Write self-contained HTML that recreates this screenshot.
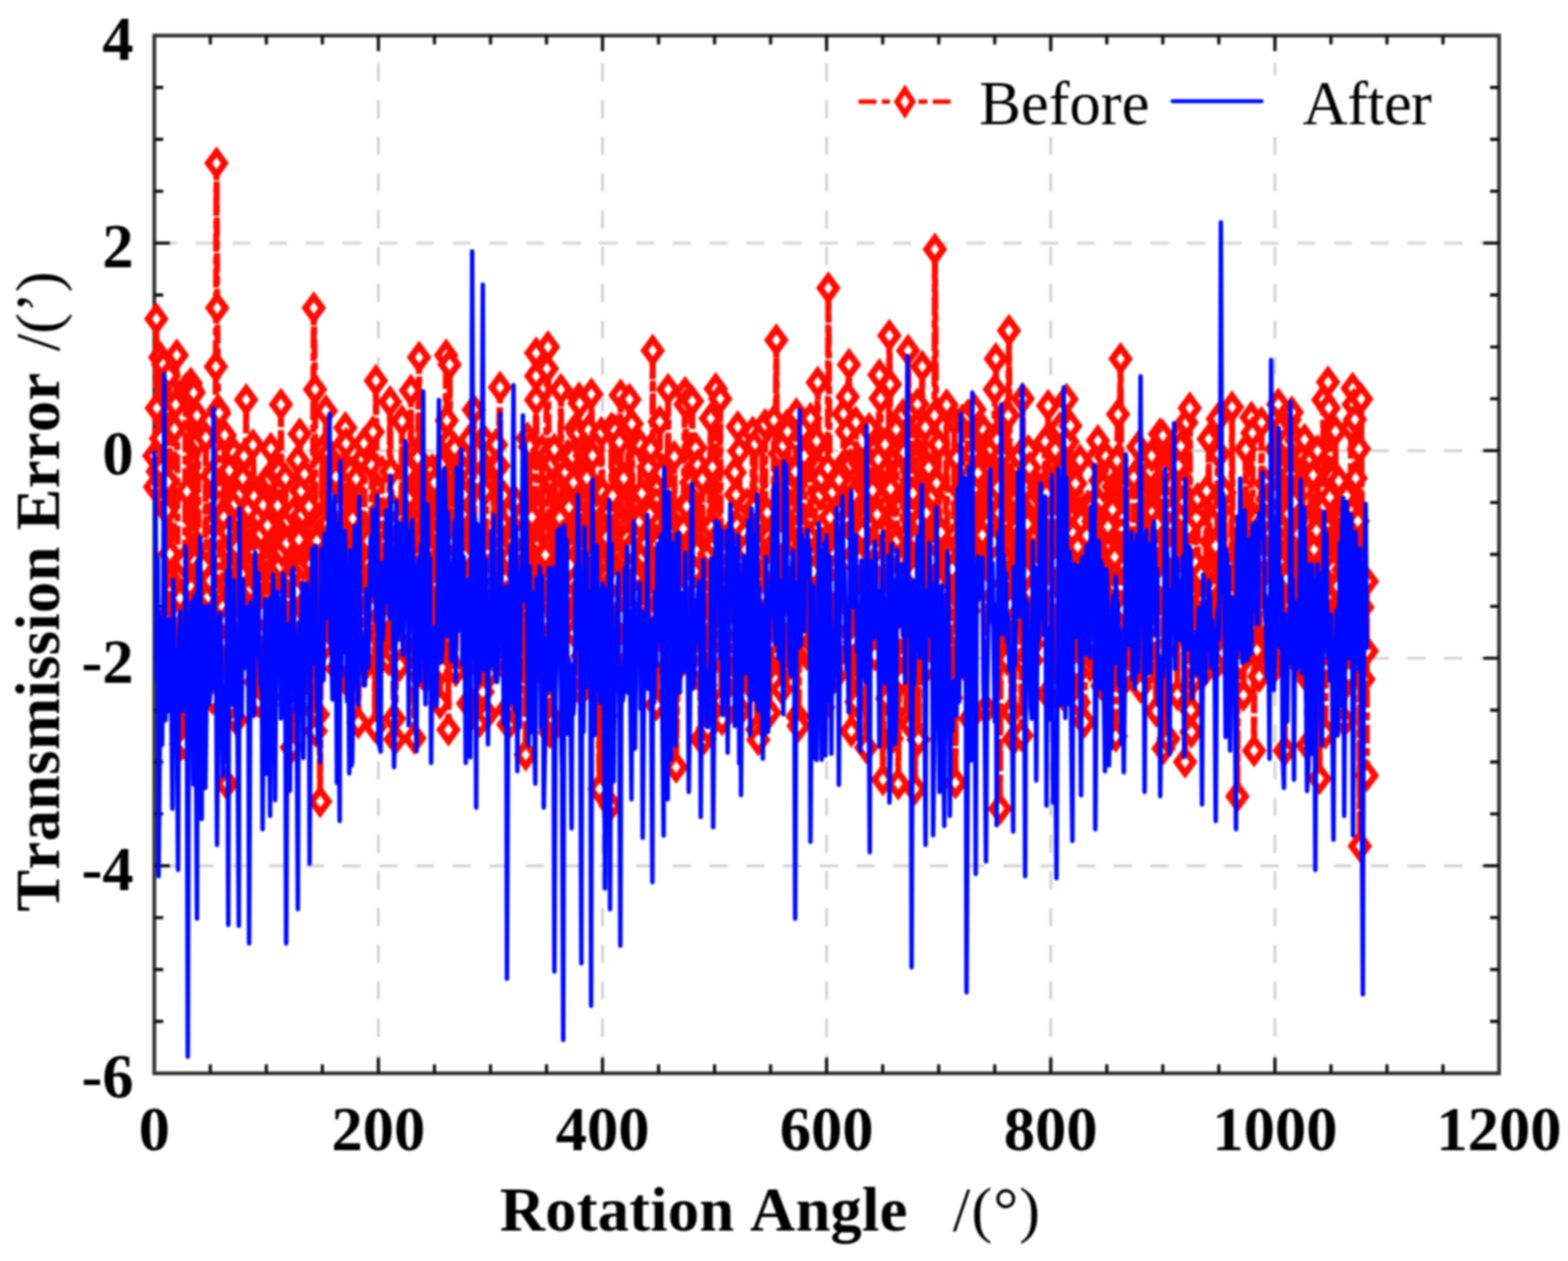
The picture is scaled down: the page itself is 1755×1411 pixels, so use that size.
<!DOCTYPE html>
<html><head><meta charset="utf-8"><title>Transmission Error vs Rotation Angle</title>
<style>html,body{margin:0;padding:0;background:#fff;overflow:hidden}svg{display:block;filter:blur(0.8px)}text{font-kerning:none}</style></head>
<body><svg width="1755" height="1411" viewBox="0 0 1755 1411">
<rect width="1755" height="1411" fill="#fff"/>
<defs><path id="dm" d="M0 -12.7L9.3 0L0 12.7L-9.3 0Z" fill="#fff" stroke="#ff0a00" stroke-width="7.3"/></defs>
<g stroke="#d2d2d2" stroke-width="3.2" stroke-dasharray="20.5 20.6" fill="none"><line x1="1677.8" y1="272.0" x2="172.7" y2="272.0"/><line x1="1677.8" y1="504.3" x2="172.7" y2="504.3"/><line x1="1677.8" y1="736.5" x2="172.7" y2="736.5"/><line x1="1677.8" y1="968.8" x2="172.7" y2="968.8"/><line x1="423.5" y1="1201.0" x2="423.5" y2="39.8"/><line x1="674.4" y1="1201.0" x2="674.4" y2="39.8"/><line x1="925.2" y1="1201.0" x2="925.2" y2="39.8"/><line x1="1176.1" y1="1201.0" x2="1176.1" y2="39.8"/><line x1="1427.0" y1="1201.0" x2="1427.0" y2="39.8"/></g>
<rect x="172.7" y="39.8" width="1505.1" height="1161.2" fill="none" stroke="#333" stroke-width="4.2"/>
<path d="M235.4 1201.0V1191.0M235.4 39.8V49.8M298.1 1201.0V1191.0M298.1 39.8V49.8M360.8 1201.0V1191.0M360.8 39.8V49.8M423.5 1201.0V1183.5M423.5 39.8V57.3M486.3 1201.0V1191.0M486.3 39.8V49.8M549.0 1201.0V1191.0M549.0 39.8V49.8M611.7 1201.0V1191.0M611.7 39.8V49.8M674.4 1201.0V1183.5M674.4 39.8V57.3M737.1 1201.0V1191.0M737.1 39.8V49.8M799.8 1201.0V1191.0M799.8 39.8V49.8M862.5 1201.0V1191.0M862.5 39.8V49.8M925.2 1201.0V1183.5M925.2 39.8V57.3M988.0 1201.0V1191.0M988.0 39.8V49.8M1050.7 1201.0V1191.0M1050.7 39.8V49.8M1113.4 1201.0V1191.0M1113.4 39.8V49.8M1176.1 1201.0V1183.5M1176.1 39.8V57.3M1238.8 1201.0V1191.0M1238.8 39.8V49.8M1301.5 1201.0V1191.0M1301.5 39.8V49.8M1364.2 1201.0V1191.0M1364.2 39.8V49.8M1427.0 1201.0V1183.5M1427.0 39.8V57.3M1489.7 1201.0V1191.0M1489.7 39.8V49.8M1552.4 1201.0V1191.0M1552.4 39.8V49.8M1615.1 1201.0V1191.0M1615.1 39.8V49.8M172.7 97.9H182.7M1677.8 97.9H1667.8M172.7 155.9H182.7M1677.8 155.9H1667.8M172.7 214.0H182.7M1677.8 214.0H1667.8M172.7 272.0H190.2M1677.8 272.0H1660.3M172.7 330.1H182.7M1677.8 330.1H1667.8M172.7 388.2H182.7M1677.8 388.2H1667.8M172.7 446.2H182.7M1677.8 446.2H1667.8M172.7 504.3H190.2M1677.8 504.3H1660.3M172.7 562.3H182.7M1677.8 562.3H1667.8M172.7 620.4H182.7M1677.8 620.4H1667.8M172.7 678.5H182.7M1677.8 678.5H1667.8M172.7 736.5H190.2M1677.8 736.5H1660.3M172.7 794.6H182.7M1677.8 794.6H1667.8M172.7 852.6H182.7M1677.8 852.6H1667.8M172.7 910.7H182.7M1677.8 910.7H1667.8M172.7 968.8H190.2M1677.8 968.8H1660.3M172.7 1026.8H182.7M1677.8 1026.8H1667.8M172.7 1084.9H182.7M1677.8 1084.9H1667.8M172.7 1142.9H182.7M1677.8 1142.9H1667.8" stroke="#111" stroke-width="3.6" fill="none"/>
<path d="M172.7 510.1L173.5 544.9L175.0 356.8L175.5 456.7L176.5 527.5L179.3 399.8L180.2 490.7L181.5 523.9L182.7 407.8L184.0 559.7L185.2 692.7L186.5 571.2L187.8 539.4L189.0 420.2L190.3 619.8L191.5 706.4L192.8 723.5L194.0 773.6L195.3 480.0L196.5 452.6L197.8 397.4L199.0 650.2L200.3 639.7L201.5 669.4L202.8 833.2L204.1 641.6L205.3 629.2L206.6 832.1L207.8 435.1L209.1 550.0L210.3 744.9L212.2 443.9L213.5 428.8L214.1 657.2L215.3 435.9L216.6 439.5L217.9 628.4L219.1 685.2L220.4 465.0L221.6 493.7L222.9 701.7L224.1 697.6L225.4 663.2L226.6 721.7L227.9 632.7L229.1 738.3L230.4 489.5L231.6 679.9L232.9 667.6L234.2 748.4L235.4 649.7L236.7 533.0L237.9 781.7L239.2 719.0L241.6 410.2L242.3 182.6L243.1 344.6L244.2 458.7L245.4 462.2L246.7 688.9L248.0 719.1L249.2 679.1L250.5 578.7L251.5 486.9L253.0 694.8L253.8 877.0L255.5 595.1L256.7 526.5L258.0 561.8L259.2 666.6L260.5 734.1L261.8 506.6L263.0 563.4L264.3 805.4L265.5 612.7L266.8 740.5L268.0 693.7L269.3 551.7L270.5 642.8L271.8 535.2L273.0 510.5L274.3 679.8L275.5 447.3L276.8 658.4L278.1 569.8L279.3 688.2L280.6 658.5L281.8 707.6L283.1 497.9L284.3 555.5L285.6 763.0L286.8 703.1L288.1 651.0L289.3 785.0L290.6 708.5L291.9 597.4L293.1 687.3L294.4 565.3L295.6 759.5L296.9 539.6L298.1 747.6L299.4 587.9L300.6 779.6L301.9 536.3L303.1 501.8L304.4 735.5L305.7 649.0L306.9 526.8L308.2 734.5L309.4 640.8L310.7 565.9L311.9 527.4L313.2 633.1L314.4 452.6L315.7 616.9L316.9 724.2L318.2 747.6L319.4 535.4L320.7 607.7L322.0 582.5L323.2 690.3L324.5 788.8L325.7 703.8L326.6 836.4L328.2 573.8L329.5 692.7L330.7 636.4L332.0 662.4L333.2 514.9L334.5 603.9L335.4 485.7L337.0 549.6L338.3 575.7L339.5 632.5L340.8 530.5L342.0 680.0L343.3 702.9L344.5 782.6L345.8 566.6L347.0 728.7L348.3 630.9L349.5 713.5L351.2 344.6L352.6 435.8L353.3 818.0L354.6 605.2L355.8 799.5L357.1 707.8L358.3 896.8L359.6 583.4L360.8 504.0L362.1 691.0L363.3 721.9L364.6 459.7L365.9 678.9L367.1 585.7L368.4 507.0L369.6 545.8L370.9 557.4L372.1 709.5L373.4 672.5L374.6 609.6L375.9 533.4L377.1 748.5L378.4 588.8L379.7 567.8L380.9 502.7L382.2 623.9L383.4 678.3L384.7 737.9L386.5 478.7L387.2 496.3L388.4 763.0L389.7 707.9L390.9 759.0L392.2 527.7L393.4 644.3L394.7 580.3L396.0 645.5L397.2 640.8L398.5 535.9L399.7 715.2L401.1 808.5L402.2 665.5L403.5 736.7L404.7 635.1L406.0 513.9L407.2 496.2L408.5 592.1L409.8 743.5L411.0 595.1L412.3 605.4L413.5 629.9L414.8 678.9L416.0 520.8L417.3 483.3L418.5 639.1L419.8 813.4L420.7 425.9L422.3 616.9L423.5 652.9L424.8 711.1L426.1 612.1L427.3 527.6L428.6 734.2L429.8 692.0L431.1 610.7L432.3 605.7L433.6 621.7L434.8 738.2L436.5 449.7L437.3 527.7L438.6 567.8L439.9 729.0L441.0 803.9L442.4 827.2L443.6 713.8L444.9 608.7L446.1 723.1L447.4 744.3L448.6 659.9L449.9 471.1L451.1 679.4L452.4 645.7L453.7 593.4L454.9 609.1L456.2 526.7L457.4 560.3L458.7 555.5L459.9 436.9L461.2 660.0L462.4 506.4L463.8 825.9L464.9 733.1L466.2 545.2L467.4 512.5L469.1 399.8L470.0 640.3L471.2 604.3L472.5 754.1L473.7 545.5L475.0 611.4L476.2 575.8L477.5 721.1L478.7 615.5L480.0 543.2L481.2 756.0L482.5 719.3L483.8 525.6L485.0 750.2L486.3 540.2L487.5 654.4L488.8 717.3L490.0 654.1L491.3 595.7L492.5 786.5L493.8 519.5L495.0 748.0L496.3 662.7L497.6 604.5L499.3 397.4L500.1 470.5L501.9 816.6L502.6 494.2L503.2 407.9L505.1 686.3L506.3 625.0L507.6 606.4L508.8 501.7L510.1 750.5L511.3 551.8L512.6 550.8L513.9 588.5L515.1 683.7L516.4 524.0L517.6 575.7L518.9 553.5L520.1 622.2L521.4 665.0L522.6 650.0L523.9 787.2L525.1 492.3L526.4 660.3L527.7 696.2L528.9 723.0L530.2 458.6L531.4 639.0L532.7 677.8L533.9 741.8L535.2 676.1L536.8 807.4L537.7 667.4L538.9 601.4L540.2 774.3L541.4 491.6L542.7 549.4L544.0 523.9L545.2 799.1L546.5 684.8L547.7 753.5L549.0 686.9L550.2 700.4L551.5 705.2L552.7 524.6L554.0 706.2L555.2 497.5L556.5 738.1L557.8 521.2L559.6 433.4L560.3 613.4L561.5 585.3L562.8 701.9L564.0 555.3L565.3 649.1L566.5 667.5L567.8 793.4L569.0 810.7L570.3 624.6L571.6 689.4L572.8 756.0L574.1 605.2L575.3 744.4L576.6 561.2L577.8 734.1L579.1 720.6L580.3 735.1L581.6 643.4L582.8 597.9L584.1 578.9L585.3 668.7L586.6 688.7L588.4 844.5L589.1 674.5L590.4 490.2L591.6 683.0L592.9 499.9L594.1 757.2L595.4 578.6L596.6 659.5L597.9 696.6L600.1 420.7L600.1 395.1L600.1 447.4L602.9 709.3L604.2 658.3L605.4 710.5L606.7 503.8L607.9 751.7L609.2 692.3L610.4 621.0L612.1 412.5L613.3 388.2L614.2 508.0L615.5 819.4L616.7 812.2L618.0 518.6L619.2 805.6L620.5 503.0L621.7 584.5L623.0 689.3L624.2 638.4L625.5 702.9L626.7 579.7L627.7 435.8L629.2 600.1L630.5 517.6L631.8 684.7L633.0 528.7L634.3 666.6L635.5 509.3L636.8 567.7L638.0 632.3L639.3 511.2L640.5 510.8L641.8 540.0L643.0 708.3L644.3 479.1L645.6 752.8L646.8 484.6L648.1 445.4L648.7 451.3L650.6 773.5L651.8 734.2L653.1 499.7L654.3 509.9L655.6 750.4L656.8 535.1L658.1 749.0L658.7 481.1L660.6 730.0L661.9 441.0L663.1 509.9L664.4 621.1L665.6 637.8L666.9 564.7L668.1 549.6L669.4 727.7L671.0 882.8L671.9 660.2L673.1 484.0L674.4 551.2L675.7 709.2L676.9 740.1L678.2 801.1L679.4 600.9L680.7 756.7L681.9 573.3L683.4 901.4L684.4 479.1L685.7 554.7L686.9 668.8L688.2 481.6L689.5 649.5L690.7 718.8L692.0 758.2L693.2 494.7L694.6 442.2L695.7 690.8L697.0 726.5L698.2 535.2L699.5 745.6L700.7 666.8L702.0 602.4L703.2 481.1L704.5 446.9L705.8 613.4L707.0 474.3L708.3 579.1L709.5 651.0L710.8 646.7L712.0 583.7L713.3 667.2L714.5 603.7L715.8 583.7L717.0 498.4L718.3 552.2L719.6 622.6L720.8 718.9L722.1 607.6L723.3 607.9L724.6 691.0L725.8 523.0L727.1 575.2L728.3 502.1L729.6 747.3L730.5 392.2L732.1 724.3L733.3 687.2L734.6 788.7L735.9 609.3L737.1 734.3L738.4 471.8L739.6 630.0L740.9 529.1L742.1 716.4L743.4 653.7L744.6 691.0L745.9 661.4L747.8 435.8L748.4 594.7L749.7 774.2L750.9 680.2L752.2 689.7L753.4 733.3L754.7 510.9L755.9 637.1L756.7 858.4L758.4 747.0L759.7 653.3L760.9 674.1L762.2 571.7L763.5 657.5L764.7 591.7L766.7 439.3L767.2 452.6L768.5 566.5L769.7 739.2L771.0 649.6L772.2 615.6L773.5 540.0L774.7 448.8L776.0 625.6L777.2 639.3L778.5 501.3L779.8 617.1L781.0 520.3L782.3 544.8L783.5 748.0L784.8 827.1L786.0 536.2L787.3 695.7L788.5 826.2L789.8 766.9L791.0 595.9L792.3 815.1L793.6 619.6L795.4 468.3L796.1 590.2L797.3 522.6L798.6 717.5L799.8 609.3L801.1 435.0L802.3 683.6L803.6 685.7L804.8 598.4L806.1 446.2L807.4 784.5L808.2 805.0L809.9 685.1L811.1 744.6L812.4 651.2L813.6 617.8L814.9 653.6L816.1 701.6L817.4 598.3L818.6 785.3L819.9 641.0L821.1 665.8L822.4 528.6L823.7 553.5L824.9 587.9L825.7 477.6L827.4 504.8L828.7 795.0L829.9 745.5L831.2 738.9L832.4 707.4L833.7 596.9L834.9 615.1L836.2 563.8L837.5 698.5L838.7 717.4L840.0 699.7L841.2 767.5L842.5 483.7L843.7 568.5L845.0 496.8L846.2 714.8L847.5 816.3L848.7 827.7L850.0 692.2L851.2 667.2L852.5 715.0L853.3 485.7L855.0 715.6L856.3 475.2L857.5 750.2L858.8 573.7L860.0 601.3L861.3 797.5L862.5 635.0L863.8 726.5L865.0 724.3L866.3 470.4L867.6 606.7L868.9 380.5L870.1 615.2L871.3 732.6L872.6 507.8L873.8 601.9L875.1 771.1L876.3 498.7L877.6 693.3L878.8 750.3L880.1 476.4L881.4 482.9L882.6 745.1L883.9 627.7L885.1 541.7L886.4 528.2L887.6 739.3L888.9 731.6L890.1 527.6L891.3 463.1L892.6 801.5L893.9 812.3L895.1 588.9L896.4 648.9L897.7 711.2L898.9 480.9L900.2 510.1L901.4 617.3L902.7 731.8L903.9 725.0L905.2 600.4L906.4 620.6L907.1 468.3L908.9 650.4L910.2 639.4L911.5 721.8L912.7 499.5L914.0 493.6L915.2 427.9L916.5 523.0L917.7 553.4L919.0 535.0L920.2 680.5L921.5 791.7L922.7 672.1L924.0 734.4L925.2 689.4L926.5 523.8L927.1 322.3L929.0 579.1L930.3 747.3L931.5 550.9L932.8 656.4L934.0 620.2L935.3 756.5L936.5 635.0L937.8 733.1L939.0 537.3L940.3 713.9L941.6 717.1L942.8 693.0L944.1 463.0L945.3 518.9L946.6 608.3L947.8 483.1L948.8 443.9L950.2 407.9L951.6 519.6L952.8 818.1L954.1 710.1L955.4 553.9L956.6 718.4L957.9 472.6L958.6 785.3L960.4 513.6L961.6 626.1L962.9 518.7L964.1 667.8L965.4 596.1L966.6 724.1L967.9 517.2L969.5 836.4L970.4 698.7L971.7 686.8L972.9 479.5L974.2 540.4L975.4 517.6L976.7 548.7L977.9 504.4L979.2 732.8L980.4 500.9L981.7 575.6L982.9 514.1L984.3 419.5L985.5 445.8L986.7 629.9L988.2 872.4L989.2 693.4L990.5 497.4L991.7 668.9L993.0 781.8L995.4 375.4L996.1 430.0L996.7 547.1L998.0 826.6L999.3 675.1L1000.5 646.7L1001.8 482.1L1003.0 480.7L1004.3 603.7L1005.4 877.0L1006.8 700.5L1008.0 709.0L1009.3 759.6L1010.5 463.9L1011.8 506.3L1013.0 649.4L1014.3 804.7L1015.6 598.6L1016.4 392.2L1018.1 550.6L1019.3 810.5L1020.6 458.8L1021.8 551.9L1023.1 641.5L1024.1 882.8L1025.6 603.0L1026.8 452.3L1028.1 827.6L1029.4 584.0L1030.6 522.9L1032.2 410.2L1033.1 748.7L1034.4 716.5L1035.6 478.1L1036.9 574.0L1038.1 745.0L1039.4 523.3L1040.6 670.8L1041.9 667.5L1043.1 626.5L1044.4 554.1L1045.9 464.8L1046.4 279.0L1048.2 540.5L1049.4 708.3L1050.7 497.4L1051.9 649.4L1053.2 595.7L1054.4 708.2L1055.7 705.4L1056.9 742.7L1058.2 637.7L1059.5 453.1L1060.7 661.1L1062.0 696.8L1063.2 619.8L1064.5 780.9L1065.7 636.8L1067.0 674.7L1068.2 470.5L1069.4 875.9L1070.7 512.5L1072.0 711.5L1073.3 610.8L1074.5 547.5L1075.8 672.7L1077.0 470.1L1078.3 668.8L1079.5 677.9L1080.8 746.7L1082.0 581.7L1083.3 464.7L1084.5 683.4L1085.8 804.3L1087.0 547.6L1088.3 507.4L1089.6 664.0L1090.8 458.2L1092.1 544.3L1093.3 637.1L1094.6 529.1L1095.8 637.9L1097.1 651.4L1098.3 489.9L1099.6 598.6L1100.8 481.4L1102.1 655.3L1103.4 793.3L1104.6 497.6L1105.9 582.1L1107.1 583.6L1108.4 500.7L1109.6 503.0L1110.9 554.3L1112.1 606.8L1113.4 435.8L1114.6 401.5L1115.9 492.2L1117.2 545.6L1118.4 573.8L1119.2 904.9L1120.9 510.0L1122.2 695.3L1123.4 731.4L1124.7 465.4L1125.9 651.3L1127.2 738.0L1128.4 464.8L1129.3 369.9L1130.9 677.2L1132.2 796.0L1133.5 518.0L1134.7 827.0L1136.0 692.7L1137.2 658.3L1138.5 590.4L1139.7 523.6L1141.0 510.3L1142.2 600.3L1143.5 823.0L1144.7 446.1L1146.0 741.1L1147.3 545.7L1148.5 641.7L1149.8 586.3L1151.0 504.4L1152.3 523.4L1153.5 663.0L1154.8 738.8L1156.0 720.6L1157.3 560.1L1158.5 626.9L1159.8 704.3L1161.0 677.4L1162.3 545.6L1163.6 632.3L1164.8 555.4L1166.1 682.7L1167.3 556.7L1168.6 543.6L1169.8 494.1L1171.1 552.3L1172.3 776.5L1173.1 453.9L1174.8 578.8L1176.1 657.8L1177.4 578.7L1178.6 672.3L1179.9 774.0L1181.1 503.4L1182.4 630.1L1183.6 768.4L1184.9 538.9L1186.1 478.8L1187.4 534.7L1188.6 527.3L1189.4 777.2L1191.2 616.5L1192.4 688.8L1193.7 446.8L1194.9 494.3L1196.2 637.3L1197.4 652.2L1198.0 476.4L1199.9 756.1L1201.2 596.5L1202.4 757.2L1203.7 541.1L1204.9 747.7L1206.2 611.6L1207.5 786.0L1208.7 514.9L1210.0 583.2L1211.2 692.6L1212.5 654.4L1213.7 807.8L1215.0 704.9L1216.2 599.2L1217.5 566.2L1218.7 741.3L1220.0 745.1L1221.3 650.7L1222.5 565.5L1223.8 583.2L1225.0 631.7L1226.3 513.4L1227.5 742.8L1228.8 493.1L1230.0 653.9L1231.3 537.8L1232.5 560.2L1233.8 767.4L1235.0 544.4L1236.3 763.7L1237.6 510.8L1238.8 580.3L1240.1 589.2L1241.3 689.5L1242.6 754.9L1243.8 732.0L1245.1 570.3L1246.3 544.5L1247.6 623.2L1248.8 823.7L1250.1 515.5L1251.4 463.6L1252.6 540.9L1254.2 401.5L1255.1 546.8L1256.4 764.2L1257.6 682.3L1258.9 757.7L1260.1 753.3L1261.4 543.8L1262.6 727.3L1263.9 704.7L1265.2 730.4L1266.4 614.6L1267.7 734.8L1268.9 534.0L1270.2 732.8L1271.4 679.3L1272.7 720.5L1273.9 500.0L1275.2 757.9L1276.4 769.0L1277.7 600.9L1278.9 638.9L1280.2 597.7L1281.5 516.8L1282.7 548.6L1284.0 537.9L1285.2 751.6L1286.5 534.6L1287.7 527.2L1289.0 510.1L1290.2 572.7L1291.5 680.2L1292.7 673.9L1294.0 795.7L1295.3 586.8L1296.5 558.2L1297.8 496.9L1298.4 485.7L1300.3 650.8L1301.5 487.5L1302.3 837.5L1304.0 556.3L1305.3 524.8L1306.5 619.3L1307.8 826.8L1309.1 594.3L1310.3 618.0L1311.6 717.3L1312.8 588.4L1314.1 512.5L1315.3 518.9L1316.6 504.8L1317.8 777.0L1319.1 521.0L1320.3 487.3L1321.6 499.2L1322.8 644.5L1324.1 578.0L1325.4 561.6L1326.4 852.6L1327.9 472.7L1329.1 691.5L1330.4 590.6L1331.6 456.7L1332.9 794.6L1333.5 819.0L1335.4 760.9L1336.6 722.4L1337.9 630.1L1339.2 579.3L1340.4 557.8L1341.7 733.5L1342.9 652.5L1344.2 643.1L1345.4 734.9L1346.7 670.0L1347.9 751.7L1349.2 700.5L1350.4 549.4L1351.7 687.0L1352.9 491.3L1354.2 718.4L1355.5 606.1L1356.7 712.5L1358.0 734.3L1359.2 659.6L1360.5 610.8L1361.7 742.8L1363.0 468.7L1364.2 508.1L1365.5 570.9L1366.7 553.7L1368.0 663.9L1369.3 730.5L1370.5 551.0L1371.8 659.8L1373.0 700.9L1374.3 702.1L1375.5 663.6L1376.8 635.4L1378.0 746.4L1378.9 455.5L1380.5 752.0L1381.8 729.1L1383.7 777.2L1384.9 891.0L1385.6 713.6L1386.8 642.8L1388.1 741.7L1389.3 634.9L1390.6 612.0L1391.8 777.8L1393.1 609.6L1394.3 502.7L1395.6 730.3L1396.8 619.3L1398.1 714.0L1399.4 702.8L1400.6 467.1L1401.7 484.5L1403.6 839.9L1404.4 674.2L1405.6 581.2L1406.9 727.5L1408.1 629.8L1409.4 756.8L1410.6 620.6L1411.9 472.8L1413.2 614.3L1414.4 624.5L1415.7 583.0L1416.9 541.5L1418.2 558.5L1419.4 659.7L1420.7 710.2L1421.9 596.7L1423.2 737.4L1424.4 749.9L1425.7 721.3L1427.0 554.8L1428.2 502.4L1429.5 573.6L1430.7 452.3L1432.0 628.7L1433.2 499.1L1434.5 486.8L1435.2 476.4L1437.0 704.1L1437.9 839.9L1439.5 494.3L1440.7 647.2L1442.0 574.7L1443.3 469.8L1444.5 530.2L1445.8 461.2L1447.0 633.6L1448.3 561.9L1449.5 692.9L1450.8 492.4L1452.0 721.5L1453.3 597.5L1454.5 743.8L1455.8 712.9L1457.1 633.2L1458.3 510.9L1460.2 491.9L1460.8 684.3L1462.1 645.2L1463.3 834.1L1464.6 761.2L1465.8 678.3L1467.1 514.2L1468.3 610.3L1469.6 531.7L1470.8 614.7L1472.1 690.7L1473.4 593.6L1474.6 504.7L1475.9 705.0L1476.9 871.2L1478.4 708.1L1479.6 686.9L1481.1 447.4L1482.1 566.4L1483.4 820.0L1484.6 624.8L1486.4 427.6L1487.2 456.6L1488.4 556.3L1489.7 708.0L1490.9 533.9L1492.2 635.9L1493.4 700.1L1494.7 482.6L1495.9 692.7L1497.2 655.9L1498.4 538.1L1499.7 695.3L1501.0 682.7L1502.2 770.8L1503.5 637.6L1504.7 807.1L1506.0 592.0L1507.2 554.7L1508.5 708.6L1509.7 754.6L1511.0 712.8L1512.2 478.5L1513.9 434.6L1515.2 452.6L1516.5 469.4L1517.3 535.0L1518.5 684.7L1519.8 583.1L1521.0 502.3L1522.0 946.7L1523.5 446.4L1524.8 679.4L1526.0 760.1L1529.8 728.4L1529.8 650.6L1529.8 867.7" fill="none" stroke="#ff0a00" stroke-width="6.8" stroke-dasharray="21 5 9 5" stroke-linejoin="round"/><use href="#dm" x="172.7" y="510.1"/><use href="#dm" x="173.5" y="544.9"/><use href="#dm" x="175.0" y="356.8"/><use href="#dm" x="175.5" y="456.7"/><use href="#dm" x="176.5" y="527.5"/><use href="#dm" x="179.3" y="399.8"/><use href="#dm" x="180.2" y="490.7"/><use href="#dm" x="181.5" y="523.9"/><use href="#dm" x="182.7" y="407.8"/><use href="#dm" x="184.0" y="559.7"/><use href="#dm" x="185.2" y="692.7"/><use href="#dm" x="186.5" y="571.2"/><use href="#dm" x="187.8" y="539.4"/><use href="#dm" x="189.0" y="420.2"/><use href="#dm" x="190.3" y="619.8"/><use href="#dm" x="191.5" y="706.4"/><use href="#dm" x="192.8" y="723.5"/><use href="#dm" x="194.0" y="773.6"/><use href="#dm" x="195.3" y="480.0"/><use href="#dm" x="196.5" y="452.6"/><use href="#dm" x="197.8" y="397.4"/><use href="#dm" x="199.0" y="650.2"/><use href="#dm" x="200.3" y="639.7"/><use href="#dm" x="201.5" y="669.4"/><use href="#dm" x="202.8" y="833.2"/><use href="#dm" x="204.1" y="641.6"/><use href="#dm" x="205.3" y="629.2"/><use href="#dm" x="206.6" y="832.1"/><use href="#dm" x="207.8" y="435.1"/><use href="#dm" x="209.1" y="550.0"/><use href="#dm" x="210.3" y="744.9"/><use href="#dm" x="212.2" y="443.9"/><use href="#dm" x="213.5" y="428.8"/><use href="#dm" x="214.1" y="657.2"/><use href="#dm" x="215.3" y="435.9"/><use href="#dm" x="216.6" y="439.5"/><use href="#dm" x="217.9" y="628.4"/><use href="#dm" x="219.1" y="685.2"/><use href="#dm" x="220.4" y="465.0"/><use href="#dm" x="221.6" y="493.7"/><use href="#dm" x="222.9" y="701.7"/><use href="#dm" x="224.1" y="697.6"/><use href="#dm" x="225.4" y="663.2"/><use href="#dm" x="226.6" y="721.7"/><use href="#dm" x="227.9" y="632.7"/><use href="#dm" x="229.1" y="738.3"/><use href="#dm" x="230.4" y="489.5"/><use href="#dm" x="231.6" y="679.9"/><use href="#dm" x="232.9" y="667.6"/><use href="#dm" x="234.2" y="748.4"/><use href="#dm" x="235.4" y="649.7"/><use href="#dm" x="236.7" y="533.0"/><use href="#dm" x="237.9" y="781.7"/><use href="#dm" x="239.2" y="719.0"/><use href="#dm" x="241.6" y="410.2"/><use href="#dm" x="242.3" y="182.6"/><use href="#dm" x="243.1" y="344.6"/><use href="#dm" x="244.2" y="458.7"/><use href="#dm" x="245.4" y="462.2"/><use href="#dm" x="246.7" y="688.9"/><use href="#dm" x="248.0" y="719.1"/><use href="#dm" x="249.2" y="679.1"/><use href="#dm" x="250.5" y="578.7"/><use href="#dm" x="251.5" y="486.9"/><use href="#dm" x="253.0" y="694.8"/><use href="#dm" x="253.8" y="877.0"/><use href="#dm" x="255.5" y="595.1"/><use href="#dm" x="256.7" y="526.5"/><use href="#dm" x="258.0" y="561.8"/><use href="#dm" x="259.2" y="666.6"/><use href="#dm" x="260.5" y="734.1"/><use href="#dm" x="261.8" y="506.6"/><use href="#dm" x="263.0" y="563.4"/><use href="#dm" x="264.3" y="805.4"/><use href="#dm" x="265.5" y="612.7"/><use href="#dm" x="266.8" y="740.5"/><use href="#dm" x="268.0" y="693.7"/><use href="#dm" x="269.3" y="551.7"/><use href="#dm" x="270.5" y="642.8"/><use href="#dm" x="271.8" y="535.2"/><use href="#dm" x="273.0" y="510.5"/><use href="#dm" x="274.3" y="679.8"/><use href="#dm" x="275.5" y="447.3"/><use href="#dm" x="276.8" y="658.4"/><use href="#dm" x="278.1" y="569.8"/><use href="#dm" x="279.3" y="688.2"/><use href="#dm" x="280.6" y="658.5"/><use href="#dm" x="281.8" y="707.6"/><use href="#dm" x="283.1" y="497.9"/><use href="#dm" x="284.3" y="555.5"/><use href="#dm" x="285.6" y="763.0"/><use href="#dm" x="286.8" y="703.1"/><use href="#dm" x="288.1" y="651.0"/><use href="#dm" x="289.3" y="785.0"/><use href="#dm" x="290.6" y="708.5"/><use href="#dm" x="291.9" y="597.4"/><use href="#dm" x="293.1" y="687.3"/><use href="#dm" x="294.4" y="565.3"/><use href="#dm" x="295.6" y="759.5"/><use href="#dm" x="296.9" y="539.6"/><use href="#dm" x="298.1" y="747.6"/><use href="#dm" x="299.4" y="587.9"/><use href="#dm" x="300.6" y="779.6"/><use href="#dm" x="301.9" y="536.3"/><use href="#dm" x="303.1" y="501.8"/><use href="#dm" x="304.4" y="735.5"/><use href="#dm" x="305.7" y="649.0"/><use href="#dm" x="306.9" y="526.8"/><use href="#dm" x="308.2" y="734.5"/><use href="#dm" x="309.4" y="640.8"/><use href="#dm" x="310.7" y="565.9"/><use href="#dm" x="311.9" y="527.4"/><use href="#dm" x="313.2" y="633.1"/><use href="#dm" x="314.4" y="452.6"/><use href="#dm" x="315.7" y="616.9"/><use href="#dm" x="316.9" y="724.2"/><use href="#dm" x="318.2" y="747.6"/><use href="#dm" x="319.4" y="535.4"/><use href="#dm" x="320.7" y="607.7"/><use href="#dm" x="322.0" y="582.5"/><use href="#dm" x="323.2" y="690.3"/><use href="#dm" x="324.5" y="788.8"/><use href="#dm" x="325.7" y="703.8"/><use href="#dm" x="326.6" y="836.4"/><use href="#dm" x="328.2" y="573.8"/><use href="#dm" x="329.5" y="692.7"/><use href="#dm" x="330.7" y="636.4"/><use href="#dm" x="332.0" y="662.4"/><use href="#dm" x="333.2" y="514.9"/><use href="#dm" x="334.5" y="603.9"/><use href="#dm" x="335.4" y="485.7"/><use href="#dm" x="337.0" y="549.6"/><use href="#dm" x="338.3" y="575.7"/><use href="#dm" x="339.5" y="632.5"/><use href="#dm" x="340.8" y="530.5"/><use href="#dm" x="342.0" y="680.0"/><use href="#dm" x="343.3" y="702.9"/><use href="#dm" x="344.5" y="782.6"/><use href="#dm" x="345.8" y="566.6"/><use href="#dm" x="347.0" y="728.7"/><use href="#dm" x="348.3" y="630.9"/><use href="#dm" x="349.5" y="713.5"/><use href="#dm" x="351.2" y="344.6"/><use href="#dm" x="352.6" y="435.8"/><use href="#dm" x="353.3" y="818.0"/><use href="#dm" x="354.6" y="605.2"/><use href="#dm" x="355.8" y="799.5"/><use href="#dm" x="357.1" y="707.8"/><use href="#dm" x="358.3" y="896.8"/><use href="#dm" x="359.6" y="583.4"/><use href="#dm" x="360.8" y="504.0"/><use href="#dm" x="362.1" y="691.0"/><use href="#dm" x="363.3" y="721.9"/><use href="#dm" x="364.6" y="459.7"/><use href="#dm" x="365.9" y="678.9"/><use href="#dm" x="367.1" y="585.7"/><use href="#dm" x="368.4" y="507.0"/><use href="#dm" x="369.6" y="545.8"/><use href="#dm" x="370.9" y="557.4"/><use href="#dm" x="372.1" y="709.5"/><use href="#dm" x="373.4" y="672.5"/><use href="#dm" x="374.6" y="609.6"/><use href="#dm" x="375.9" y="533.4"/><use href="#dm" x="377.1" y="748.5"/><use href="#dm" x="378.4" y="588.8"/><use href="#dm" x="379.7" y="567.8"/><use href="#dm" x="380.9" y="502.7"/><use href="#dm" x="382.2" y="623.9"/><use href="#dm" x="383.4" y="678.3"/><use href="#dm" x="384.7" y="737.9"/><use href="#dm" x="386.5" y="478.7"/><use href="#dm" x="387.2" y="496.3"/><use href="#dm" x="388.4" y="763.0"/><use href="#dm" x="389.7" y="707.9"/><use href="#dm" x="390.9" y="759.0"/><use href="#dm" x="392.2" y="527.7"/><use href="#dm" x="393.4" y="644.3"/><use href="#dm" x="394.7" y="580.3"/><use href="#dm" x="396.0" y="645.5"/><use href="#dm" x="397.2" y="640.8"/><use href="#dm" x="398.5" y="535.9"/><use href="#dm" x="399.7" y="715.2"/><use href="#dm" x="401.1" y="808.5"/><use href="#dm" x="402.2" y="665.5"/><use href="#dm" x="403.5" y="736.7"/><use href="#dm" x="404.7" y="635.1"/><use href="#dm" x="406.0" y="513.9"/><use href="#dm" x="407.2" y="496.2"/><use href="#dm" x="408.5" y="592.1"/><use href="#dm" x="409.8" y="743.5"/><use href="#dm" x="411.0" y="595.1"/><use href="#dm" x="412.3" y="605.4"/><use href="#dm" x="413.5" y="629.9"/><use href="#dm" x="414.8" y="678.9"/><use href="#dm" x="416.0" y="520.8"/><use href="#dm" x="417.3" y="483.3"/><use href="#dm" x="418.5" y="639.1"/><use href="#dm" x="419.8" y="813.4"/><use href="#dm" x="420.7" y="425.9"/><use href="#dm" x="422.3" y="616.9"/><use href="#dm" x="423.5" y="652.9"/><use href="#dm" x="424.8" y="711.1"/><use href="#dm" x="426.1" y="612.1"/><use href="#dm" x="427.3" y="527.6"/><use href="#dm" x="428.6" y="734.2"/><use href="#dm" x="429.8" y="692.0"/><use href="#dm" x="431.1" y="610.7"/><use href="#dm" x="432.3" y="605.7"/><use href="#dm" x="433.6" y="621.7"/><use href="#dm" x="434.8" y="738.2"/><use href="#dm" x="436.5" y="449.7"/><use href="#dm" x="437.3" y="527.7"/><use href="#dm" x="438.6" y="567.8"/><use href="#dm" x="439.9" y="729.0"/><use href="#dm" x="441.0" y="803.9"/><use href="#dm" x="442.4" y="827.2"/><use href="#dm" x="443.6" y="713.8"/><use href="#dm" x="444.9" y="608.7"/><use href="#dm" x="446.1" y="723.1"/><use href="#dm" x="447.4" y="744.3"/><use href="#dm" x="448.6" y="659.9"/><use href="#dm" x="449.9" y="471.1"/><use href="#dm" x="451.1" y="679.4"/><use href="#dm" x="452.4" y="645.7"/><use href="#dm" x="453.7" y="593.4"/><use href="#dm" x="454.9" y="609.1"/><use href="#dm" x="456.2" y="526.7"/><use href="#dm" x="457.4" y="560.3"/><use href="#dm" x="458.7" y="555.5"/><use href="#dm" x="459.9" y="436.9"/><use href="#dm" x="461.2" y="660.0"/><use href="#dm" x="462.4" y="506.4"/><use href="#dm" x="463.8" y="825.9"/><use href="#dm" x="464.9" y="733.1"/><use href="#dm" x="466.2" y="545.2"/><use href="#dm" x="467.4" y="512.5"/><use href="#dm" x="469.1" y="399.8"/><use href="#dm" x="470.0" y="640.3"/><use href="#dm" x="471.2" y="604.3"/><use href="#dm" x="472.5" y="754.1"/><use href="#dm" x="473.7" y="545.5"/><use href="#dm" x="475.0" y="611.4"/><use href="#dm" x="476.2" y="575.8"/><use href="#dm" x="477.5" y="721.1"/><use href="#dm" x="478.7" y="615.5"/><use href="#dm" x="480.0" y="543.2"/><use href="#dm" x="481.2" y="756.0"/><use href="#dm" x="482.5" y="719.3"/><use href="#dm" x="483.8" y="525.6"/><use href="#dm" x="485.0" y="750.2"/><use href="#dm" x="486.3" y="540.2"/><use href="#dm" x="487.5" y="654.4"/><use href="#dm" x="488.8" y="717.3"/><use href="#dm" x="490.0" y="654.1"/><use href="#dm" x="491.3" y="595.7"/><use href="#dm" x="492.5" y="786.5"/><use href="#dm" x="493.8" y="519.5"/><use href="#dm" x="495.0" y="748.0"/><use href="#dm" x="496.3" y="662.7"/><use href="#dm" x="497.6" y="604.5"/><use href="#dm" x="499.3" y="397.4"/><use href="#dm" x="500.1" y="470.5"/><use href="#dm" x="501.9" y="816.6"/><use href="#dm" x="502.6" y="494.2"/><use href="#dm" x="503.2" y="407.9"/><use href="#dm" x="505.1" y="686.3"/><use href="#dm" x="506.3" y="625.0"/><use href="#dm" x="507.6" y="606.4"/><use href="#dm" x="508.8" y="501.7"/><use href="#dm" x="510.1" y="750.5"/><use href="#dm" x="511.3" y="551.8"/><use href="#dm" x="512.6" y="550.8"/><use href="#dm" x="513.9" y="588.5"/><use href="#dm" x="515.1" y="683.7"/><use href="#dm" x="516.4" y="524.0"/><use href="#dm" x="517.6" y="575.7"/><use href="#dm" x="518.9" y="553.5"/><use href="#dm" x="520.1" y="622.2"/><use href="#dm" x="521.4" y="665.0"/><use href="#dm" x="522.6" y="650.0"/><use href="#dm" x="523.9" y="787.2"/><use href="#dm" x="525.1" y="492.3"/><use href="#dm" x="526.4" y="660.3"/><use href="#dm" x="527.7" y="696.2"/><use href="#dm" x="528.9" y="723.0"/><use href="#dm" x="530.2" y="458.6"/><use href="#dm" x="531.4" y="639.0"/><use href="#dm" x="532.7" y="677.8"/><use href="#dm" x="533.9" y="741.8"/><use href="#dm" x="535.2" y="676.1"/><use href="#dm" x="536.8" y="807.4"/><use href="#dm" x="537.7" y="667.4"/><use href="#dm" x="538.9" y="601.4"/><use href="#dm" x="540.2" y="774.3"/><use href="#dm" x="541.4" y="491.6"/><use href="#dm" x="542.7" y="549.4"/><use href="#dm" x="544.0" y="523.9"/><use href="#dm" x="545.2" y="799.1"/><use href="#dm" x="546.5" y="684.8"/><use href="#dm" x="547.7" y="753.5"/><use href="#dm" x="549.0" y="686.9"/><use href="#dm" x="550.2" y="700.4"/><use href="#dm" x="551.5" y="705.2"/><use href="#dm" x="552.7" y="524.6"/><use href="#dm" x="554.0" y="706.2"/><use href="#dm" x="555.2" y="497.5"/><use href="#dm" x="556.5" y="738.1"/><use href="#dm" x="557.8" y="521.2"/><use href="#dm" x="559.6" y="433.4"/><use href="#dm" x="560.3" y="613.4"/><use href="#dm" x="561.5" y="585.3"/><use href="#dm" x="562.8" y="701.9"/><use href="#dm" x="564.0" y="555.3"/><use href="#dm" x="565.3" y="649.1"/><use href="#dm" x="566.5" y="667.5"/><use href="#dm" x="567.8" y="793.4"/><use href="#dm" x="569.0" y="810.7"/><use href="#dm" x="570.3" y="624.6"/><use href="#dm" x="571.6" y="689.4"/><use href="#dm" x="572.8" y="756.0"/><use href="#dm" x="574.1" y="605.2"/><use href="#dm" x="575.3" y="744.4"/><use href="#dm" x="576.6" y="561.2"/><use href="#dm" x="577.8" y="734.1"/><use href="#dm" x="579.1" y="720.6"/><use href="#dm" x="580.3" y="735.1"/><use href="#dm" x="581.6" y="643.4"/><use href="#dm" x="582.8" y="597.9"/><use href="#dm" x="584.1" y="578.9"/><use href="#dm" x="585.3" y="668.7"/><use href="#dm" x="586.6" y="688.7"/><use href="#dm" x="588.4" y="844.5"/><use href="#dm" x="589.1" y="674.5"/><use href="#dm" x="590.4" y="490.2"/><use href="#dm" x="591.6" y="683.0"/><use href="#dm" x="592.9" y="499.9"/><use href="#dm" x="594.1" y="757.2"/><use href="#dm" x="595.4" y="578.6"/><use href="#dm" x="596.6" y="659.5"/><use href="#dm" x="597.9" y="696.6"/><use href="#dm" x="600.1" y="420.7"/><use href="#dm" x="600.1" y="395.1"/><use href="#dm" x="600.1" y="447.4"/><use href="#dm" x="602.9" y="709.3"/><use href="#dm" x="604.2" y="658.3"/><use href="#dm" x="605.4" y="710.5"/><use href="#dm" x="606.7" y="503.8"/><use href="#dm" x="607.9" y="751.7"/><use href="#dm" x="609.2" y="692.3"/><use href="#dm" x="610.4" y="621.0"/><use href="#dm" x="612.1" y="412.5"/><use href="#dm" x="613.3" y="388.2"/><use href="#dm" x="614.2" y="508.0"/><use href="#dm" x="615.5" y="819.4"/><use href="#dm" x="616.7" y="812.2"/><use href="#dm" x="618.0" y="518.6"/><use href="#dm" x="619.2" y="805.6"/><use href="#dm" x="620.5" y="503.0"/><use href="#dm" x="621.7" y="584.5"/><use href="#dm" x="623.0" y="689.3"/><use href="#dm" x="624.2" y="638.4"/><use href="#dm" x="625.5" y="702.9"/><use href="#dm" x="626.7" y="579.7"/><use href="#dm" x="627.7" y="435.8"/><use href="#dm" x="629.2" y="600.1"/><use href="#dm" x="630.5" y="517.6"/><use href="#dm" x="631.8" y="684.7"/><use href="#dm" x="633.0" y="528.7"/><use href="#dm" x="634.3" y="666.6"/><use href="#dm" x="635.5" y="509.3"/><use href="#dm" x="636.8" y="567.7"/><use href="#dm" x="638.0" y="632.3"/><use href="#dm" x="639.3" y="511.2"/><use href="#dm" x="640.5" y="510.8"/><use href="#dm" x="641.8" y="540.0"/><use href="#dm" x="643.0" y="708.3"/><use href="#dm" x="644.3" y="479.1"/><use href="#dm" x="645.6" y="752.8"/><use href="#dm" x="646.8" y="484.6"/><use href="#dm" x="648.1" y="445.4"/><use href="#dm" x="648.7" y="451.3"/><use href="#dm" x="650.6" y="773.5"/><use href="#dm" x="651.8" y="734.2"/><use href="#dm" x="653.1" y="499.7"/><use href="#dm" x="654.3" y="509.9"/><use href="#dm" x="655.6" y="750.4"/><use href="#dm" x="656.8" y="535.1"/><use href="#dm" x="658.1" y="749.0"/><use href="#dm" x="658.7" y="481.1"/><use href="#dm" x="660.6" y="730.0"/><use href="#dm" x="661.9" y="441.0"/><use href="#dm" x="663.1" y="509.9"/><use href="#dm" x="664.4" y="621.1"/><use href="#dm" x="665.6" y="637.8"/><use href="#dm" x="666.9" y="564.7"/><use href="#dm" x="668.1" y="549.6"/><use href="#dm" x="669.4" y="727.7"/><use href="#dm" x="671.0" y="882.8"/><use href="#dm" x="671.9" y="660.2"/><use href="#dm" x="673.1" y="484.0"/><use href="#dm" x="674.4" y="551.2"/><use href="#dm" x="675.7" y="709.2"/><use href="#dm" x="676.9" y="740.1"/><use href="#dm" x="678.2" y="801.1"/><use href="#dm" x="679.4" y="600.9"/><use href="#dm" x="680.7" y="756.7"/><use href="#dm" x="681.9" y="573.3"/><use href="#dm" x="683.4" y="901.4"/><use href="#dm" x="684.4" y="479.1"/><use href="#dm" x="685.7" y="554.7"/><use href="#dm" x="686.9" y="668.8"/><use href="#dm" x="688.2" y="481.6"/><use href="#dm" x="689.5" y="649.5"/><use href="#dm" x="690.7" y="718.8"/><use href="#dm" x="692.0" y="758.2"/><use href="#dm" x="693.2" y="494.7"/><use href="#dm" x="694.6" y="442.2"/><use href="#dm" x="695.7" y="690.8"/><use href="#dm" x="697.0" y="726.5"/><use href="#dm" x="698.2" y="535.2"/><use href="#dm" x="699.5" y="745.6"/><use href="#dm" x="700.7" y="666.8"/><use href="#dm" x="702.0" y="602.4"/><use href="#dm" x="703.2" y="481.1"/><use href="#dm" x="704.5" y="446.9"/><use href="#dm" x="705.8" y="613.4"/><use href="#dm" x="707.0" y="474.3"/><use href="#dm" x="708.3" y="579.1"/><use href="#dm" x="709.5" y="651.0"/><use href="#dm" x="710.8" y="646.7"/><use href="#dm" x="712.0" y="583.7"/><use href="#dm" x="713.3" y="667.2"/><use href="#dm" x="714.5" y="603.7"/><use href="#dm" x="715.8" y="583.7"/><use href="#dm" x="717.0" y="498.4"/><use href="#dm" x="718.3" y="552.2"/><use href="#dm" x="719.6" y="622.6"/><use href="#dm" x="720.8" y="718.9"/><use href="#dm" x="722.1" y="607.6"/><use href="#dm" x="723.3" y="607.9"/><use href="#dm" x="724.6" y="691.0"/><use href="#dm" x="725.8" y="523.0"/><use href="#dm" x="727.1" y="575.2"/><use href="#dm" x="728.3" y="502.1"/><use href="#dm" x="729.6" y="747.3"/><use href="#dm" x="730.5" y="392.2"/><use href="#dm" x="732.1" y="724.3"/><use href="#dm" x="733.3" y="687.2"/><use href="#dm" x="734.6" y="788.7"/><use href="#dm" x="735.9" y="609.3"/><use href="#dm" x="737.1" y="734.3"/><use href="#dm" x="738.4" y="471.8"/><use href="#dm" x="739.6" y="630.0"/><use href="#dm" x="740.9" y="529.1"/><use href="#dm" x="742.1" y="716.4"/><use href="#dm" x="743.4" y="653.7"/><use href="#dm" x="744.6" y="691.0"/><use href="#dm" x="745.9" y="661.4"/><use href="#dm" x="747.8" y="435.8"/><use href="#dm" x="748.4" y="594.7"/><use href="#dm" x="749.7" y="774.2"/><use href="#dm" x="750.9" y="680.2"/><use href="#dm" x="752.2" y="689.7"/><use href="#dm" x="753.4" y="733.3"/><use href="#dm" x="754.7" y="510.9"/><use href="#dm" x="755.9" y="637.1"/><use href="#dm" x="756.7" y="858.4"/><use href="#dm" x="758.4" y="747.0"/><use href="#dm" x="759.7" y="653.3"/><use href="#dm" x="760.9" y="674.1"/><use href="#dm" x="762.2" y="571.7"/><use href="#dm" x="763.5" y="657.5"/><use href="#dm" x="764.7" y="591.7"/><use href="#dm" x="766.7" y="439.3"/><use href="#dm" x="767.2" y="452.6"/><use href="#dm" x="768.5" y="566.5"/><use href="#dm" x="769.7" y="739.2"/><use href="#dm" x="771.0" y="649.6"/><use href="#dm" x="772.2" y="615.6"/><use href="#dm" x="773.5" y="540.0"/><use href="#dm" x="774.7" y="448.8"/><use href="#dm" x="776.0" y="625.6"/><use href="#dm" x="777.2" y="639.3"/><use href="#dm" x="778.5" y="501.3"/><use href="#dm" x="779.8" y="617.1"/><use href="#dm" x="781.0" y="520.3"/><use href="#dm" x="782.3" y="544.8"/><use href="#dm" x="783.5" y="748.0"/><use href="#dm" x="784.8" y="827.1"/><use href="#dm" x="786.0" y="536.2"/><use href="#dm" x="787.3" y="695.7"/><use href="#dm" x="788.5" y="826.2"/><use href="#dm" x="789.8" y="766.9"/><use href="#dm" x="791.0" y="595.9"/><use href="#dm" x="792.3" y="815.1"/><use href="#dm" x="793.6" y="619.6"/><use href="#dm" x="795.4" y="468.3"/><use href="#dm" x="796.1" y="590.2"/><use href="#dm" x="797.3" y="522.6"/><use href="#dm" x="798.6" y="717.5"/><use href="#dm" x="799.8" y="609.3"/><use href="#dm" x="801.1" y="435.0"/><use href="#dm" x="802.3" y="683.6"/><use href="#dm" x="803.6" y="685.7"/><use href="#dm" x="804.8" y="598.4"/><use href="#dm" x="806.1" y="446.2"/><use href="#dm" x="807.4" y="784.5"/><use href="#dm" x="808.2" y="805.0"/><use href="#dm" x="809.9" y="685.1"/><use href="#dm" x="811.1" y="744.6"/><use href="#dm" x="812.4" y="651.2"/><use href="#dm" x="813.6" y="617.8"/><use href="#dm" x="814.9" y="653.6"/><use href="#dm" x="816.1" y="701.6"/><use href="#dm" x="817.4" y="598.3"/><use href="#dm" x="818.6" y="785.3"/><use href="#dm" x="819.9" y="641.0"/><use href="#dm" x="821.1" y="665.8"/><use href="#dm" x="822.4" y="528.6"/><use href="#dm" x="823.7" y="553.5"/><use href="#dm" x="824.9" y="587.9"/><use href="#dm" x="825.7" y="477.6"/><use href="#dm" x="827.4" y="504.8"/><use href="#dm" x="828.7" y="795.0"/><use href="#dm" x="829.9" y="745.5"/><use href="#dm" x="831.2" y="738.9"/><use href="#dm" x="832.4" y="707.4"/><use href="#dm" x="833.7" y="596.9"/><use href="#dm" x="834.9" y="615.1"/><use href="#dm" x="836.2" y="563.8"/><use href="#dm" x="837.5" y="698.5"/><use href="#dm" x="838.7" y="717.4"/><use href="#dm" x="840.0" y="699.7"/><use href="#dm" x="841.2" y="767.5"/><use href="#dm" x="842.5" y="483.7"/><use href="#dm" x="843.7" y="568.5"/><use href="#dm" x="845.0" y="496.8"/><use href="#dm" x="846.2" y="714.8"/><use href="#dm" x="847.5" y="816.3"/><use href="#dm" x="848.7" y="827.7"/><use href="#dm" x="850.0" y="692.2"/><use href="#dm" x="851.2" y="667.2"/><use href="#dm" x="852.5" y="715.0"/><use href="#dm" x="853.3" y="485.7"/><use href="#dm" x="855.0" y="715.6"/><use href="#dm" x="856.3" y="475.2"/><use href="#dm" x="857.5" y="750.2"/><use href="#dm" x="858.8" y="573.7"/><use href="#dm" x="860.0" y="601.3"/><use href="#dm" x="861.3" y="797.5"/><use href="#dm" x="862.5" y="635.0"/><use href="#dm" x="863.8" y="726.5"/><use href="#dm" x="865.0" y="724.3"/><use href="#dm" x="866.3" y="470.4"/><use href="#dm" x="867.6" y="606.7"/><use href="#dm" x="868.9" y="380.5"/><use href="#dm" x="870.1" y="615.2"/><use href="#dm" x="871.3" y="732.6"/><use href="#dm" x="872.6" y="507.8"/><use href="#dm" x="873.8" y="601.9"/><use href="#dm" x="875.1" y="771.1"/><use href="#dm" x="876.3" y="498.7"/><use href="#dm" x="877.6" y="693.3"/><use href="#dm" x="878.8" y="750.3"/><use href="#dm" x="880.1" y="476.4"/><use href="#dm" x="881.4" y="482.9"/><use href="#dm" x="882.6" y="745.1"/><use href="#dm" x="883.9" y="627.7"/><use href="#dm" x="885.1" y="541.7"/><use href="#dm" x="886.4" y="528.2"/><use href="#dm" x="887.6" y="739.3"/><use href="#dm" x="888.9" y="731.6"/><use href="#dm" x="890.1" y="527.6"/><use href="#dm" x="891.3" y="463.1"/><use href="#dm" x="892.6" y="801.5"/><use href="#dm" x="893.9" y="812.3"/><use href="#dm" x="895.1" y="588.9"/><use href="#dm" x="896.4" y="648.9"/><use href="#dm" x="897.7" y="711.2"/><use href="#dm" x="898.9" y="480.9"/><use href="#dm" x="900.2" y="510.1"/><use href="#dm" x="901.4" y="617.3"/><use href="#dm" x="902.7" y="731.8"/><use href="#dm" x="903.9" y="725.0"/><use href="#dm" x="905.2" y="600.4"/><use href="#dm" x="906.4" y="620.6"/><use href="#dm" x="907.1" y="468.3"/><use href="#dm" x="908.9" y="650.4"/><use href="#dm" x="910.2" y="639.4"/><use href="#dm" x="911.5" y="721.8"/><use href="#dm" x="912.7" y="499.5"/><use href="#dm" x="914.0" y="493.6"/><use href="#dm" x="915.2" y="427.9"/><use href="#dm" x="916.5" y="523.0"/><use href="#dm" x="917.7" y="553.4"/><use href="#dm" x="919.0" y="535.0"/><use href="#dm" x="920.2" y="680.5"/><use href="#dm" x="921.5" y="791.7"/><use href="#dm" x="922.7" y="672.1"/><use href="#dm" x="924.0" y="734.4"/><use href="#dm" x="925.2" y="689.4"/><use href="#dm" x="926.5" y="523.8"/><use href="#dm" x="927.1" y="322.3"/><use href="#dm" x="929.0" y="579.1"/><use href="#dm" x="930.3" y="747.3"/><use href="#dm" x="931.5" y="550.9"/><use href="#dm" x="932.8" y="656.4"/><use href="#dm" x="934.0" y="620.2"/><use href="#dm" x="935.3" y="756.5"/><use href="#dm" x="936.5" y="635.0"/><use href="#dm" x="937.8" y="733.1"/><use href="#dm" x="939.0" y="537.3"/><use href="#dm" x="940.3" y="713.9"/><use href="#dm" x="941.6" y="717.1"/><use href="#dm" x="942.8" y="693.0"/><use href="#dm" x="944.1" y="463.0"/><use href="#dm" x="945.3" y="518.9"/><use href="#dm" x="946.6" y="608.3"/><use href="#dm" x="947.8" y="483.1"/><use href="#dm" x="948.8" y="443.9"/><use href="#dm" x="950.2" y="407.9"/><use href="#dm" x="951.6" y="519.6"/><use href="#dm" x="952.8" y="818.1"/><use href="#dm" x="954.1" y="710.1"/><use href="#dm" x="955.4" y="553.9"/><use href="#dm" x="956.6" y="718.4"/><use href="#dm" x="957.9" y="472.6"/><use href="#dm" x="958.6" y="785.3"/><use href="#dm" x="960.4" y="513.6"/><use href="#dm" x="961.6" y="626.1"/><use href="#dm" x="962.9" y="518.7"/><use href="#dm" x="964.1" y="667.8"/><use href="#dm" x="965.4" y="596.1"/><use href="#dm" x="966.6" y="724.1"/><use href="#dm" x="967.9" y="517.2"/><use href="#dm" x="969.5" y="836.4"/><use href="#dm" x="970.4" y="698.7"/><use href="#dm" x="971.7" y="686.8"/><use href="#dm" x="972.9" y="479.5"/><use href="#dm" x="974.2" y="540.4"/><use href="#dm" x="975.4" y="517.6"/><use href="#dm" x="976.7" y="548.7"/><use href="#dm" x="977.9" y="504.4"/><use href="#dm" x="979.2" y="732.8"/><use href="#dm" x="980.4" y="500.9"/><use href="#dm" x="981.7" y="575.6"/><use href="#dm" x="982.9" y="514.1"/><use href="#dm" x="984.3" y="419.5"/><use href="#dm" x="985.5" y="445.8"/><use href="#dm" x="986.7" y="629.9"/><use href="#dm" x="988.2" y="872.4"/><use href="#dm" x="989.2" y="693.4"/><use href="#dm" x="990.5" y="497.4"/><use href="#dm" x="991.7" y="668.9"/><use href="#dm" x="993.0" y="781.8"/><use href="#dm" x="995.4" y="375.4"/><use href="#dm" x="996.1" y="430.0"/><use href="#dm" x="996.7" y="547.1"/><use href="#dm" x="998.0" y="826.6"/><use href="#dm" x="999.3" y="675.1"/><use href="#dm" x="1000.5" y="646.7"/><use href="#dm" x="1001.8" y="482.1"/><use href="#dm" x="1003.0" y="480.7"/><use href="#dm" x="1004.3" y="603.7"/><use href="#dm" x="1005.4" y="877.0"/><use href="#dm" x="1006.8" y="700.5"/><use href="#dm" x="1008.0" y="709.0"/><use href="#dm" x="1009.3" y="759.6"/><use href="#dm" x="1010.5" y="463.9"/><use href="#dm" x="1011.8" y="506.3"/><use href="#dm" x="1013.0" y="649.4"/><use href="#dm" x="1014.3" y="804.7"/><use href="#dm" x="1015.6" y="598.6"/><use href="#dm" x="1016.4" y="392.2"/><use href="#dm" x="1018.1" y="550.6"/><use href="#dm" x="1019.3" y="810.5"/><use href="#dm" x="1020.6" y="458.8"/><use href="#dm" x="1021.8" y="551.9"/><use href="#dm" x="1023.1" y="641.5"/><use href="#dm" x="1024.1" y="882.8"/><use href="#dm" x="1025.6" y="603.0"/><use href="#dm" x="1026.8" y="452.3"/><use href="#dm" x="1028.1" y="827.6"/><use href="#dm" x="1029.4" y="584.0"/><use href="#dm" x="1030.6" y="522.9"/><use href="#dm" x="1032.2" y="410.2"/><use href="#dm" x="1033.1" y="748.7"/><use href="#dm" x="1034.4" y="716.5"/><use href="#dm" x="1035.6" y="478.1"/><use href="#dm" x="1036.9" y="574.0"/><use href="#dm" x="1038.1" y="745.0"/><use href="#dm" x="1039.4" y="523.3"/><use href="#dm" x="1040.6" y="670.8"/><use href="#dm" x="1041.9" y="667.5"/><use href="#dm" x="1043.1" y="626.5"/><use href="#dm" x="1044.4" y="554.1"/><use href="#dm" x="1045.9" y="464.8"/><use href="#dm" x="1046.4" y="279.0"/><use href="#dm" x="1048.2" y="540.5"/><use href="#dm" x="1049.4" y="708.3"/><use href="#dm" x="1050.7" y="497.4"/><use href="#dm" x="1051.9" y="649.4"/><use href="#dm" x="1053.2" y="595.7"/><use href="#dm" x="1054.4" y="708.2"/><use href="#dm" x="1055.7" y="705.4"/><use href="#dm" x="1056.9" y="742.7"/><use href="#dm" x="1058.2" y="637.7"/><use href="#dm" x="1059.5" y="453.1"/><use href="#dm" x="1060.7" y="661.1"/><use href="#dm" x="1062.0" y="696.8"/><use href="#dm" x="1063.2" y="619.8"/><use href="#dm" x="1064.5" y="780.9"/><use href="#dm" x="1065.7" y="636.8"/><use href="#dm" x="1067.0" y="674.7"/><use href="#dm" x="1068.2" y="470.5"/><use href="#dm" x="1069.4" y="875.9"/><use href="#dm" x="1070.7" y="512.5"/><use href="#dm" x="1072.0" y="711.5"/><use href="#dm" x="1073.3" y="610.8"/><use href="#dm" x="1074.5" y="547.5"/><use href="#dm" x="1075.8" y="672.7"/><use href="#dm" x="1077.0" y="470.1"/><use href="#dm" x="1078.3" y="668.8"/><use href="#dm" x="1079.5" y="677.9"/><use href="#dm" x="1080.8" y="746.7"/><use href="#dm" x="1082.0" y="581.7"/><use href="#dm" x="1083.3" y="464.7"/><use href="#dm" x="1084.5" y="683.4"/><use href="#dm" x="1085.8" y="804.3"/><use href="#dm" x="1087.0" y="547.6"/><use href="#dm" x="1088.3" y="507.4"/><use href="#dm" x="1089.6" y="664.0"/><use href="#dm" x="1090.8" y="458.2"/><use href="#dm" x="1092.1" y="544.3"/><use href="#dm" x="1093.3" y="637.1"/><use href="#dm" x="1094.6" y="529.1"/><use href="#dm" x="1095.8" y="637.9"/><use href="#dm" x="1097.1" y="651.4"/><use href="#dm" x="1098.3" y="489.9"/><use href="#dm" x="1099.6" y="598.6"/><use href="#dm" x="1100.8" y="481.4"/><use href="#dm" x="1102.1" y="655.3"/><use href="#dm" x="1103.4" y="793.3"/><use href="#dm" x="1104.6" y="497.6"/><use href="#dm" x="1105.9" y="582.1"/><use href="#dm" x="1107.1" y="583.6"/><use href="#dm" x="1108.4" y="500.7"/><use href="#dm" x="1109.6" y="503.0"/><use href="#dm" x="1110.9" y="554.3"/><use href="#dm" x="1112.1" y="606.8"/><use href="#dm" x="1113.4" y="435.8"/><use href="#dm" x="1114.6" y="401.5"/><use href="#dm" x="1115.9" y="492.2"/><use href="#dm" x="1117.2" y="545.6"/><use href="#dm" x="1118.4" y="573.8"/><use href="#dm" x="1119.2" y="904.9"/><use href="#dm" x="1120.9" y="510.0"/><use href="#dm" x="1122.2" y="695.3"/><use href="#dm" x="1123.4" y="731.4"/><use href="#dm" x="1124.7" y="465.4"/><use href="#dm" x="1125.9" y="651.3"/><use href="#dm" x="1127.2" y="738.0"/><use href="#dm" x="1128.4" y="464.8"/><use href="#dm" x="1129.3" y="369.9"/><use href="#dm" x="1130.9" y="677.2"/><use href="#dm" x="1132.2" y="796.0"/><use href="#dm" x="1133.5" y="518.0"/><use href="#dm" x="1134.7" y="827.0"/><use href="#dm" x="1136.0" y="692.7"/><use href="#dm" x="1137.2" y="658.3"/><use href="#dm" x="1138.5" y="590.4"/><use href="#dm" x="1139.7" y="523.6"/><use href="#dm" x="1141.0" y="510.3"/><use href="#dm" x="1142.2" y="600.3"/><use href="#dm" x="1143.5" y="823.0"/><use href="#dm" x="1144.7" y="446.1"/><use href="#dm" x="1146.0" y="741.1"/><use href="#dm" x="1147.3" y="545.7"/><use href="#dm" x="1148.5" y="641.7"/><use href="#dm" x="1149.8" y="586.3"/><use href="#dm" x="1151.0" y="504.4"/><use href="#dm" x="1152.3" y="523.4"/><use href="#dm" x="1153.5" y="663.0"/><use href="#dm" x="1154.8" y="738.8"/><use href="#dm" x="1156.0" y="720.6"/><use href="#dm" x="1157.3" y="560.1"/><use href="#dm" x="1158.5" y="626.9"/><use href="#dm" x="1159.8" y="704.3"/><use href="#dm" x="1161.0" y="677.4"/><use href="#dm" x="1162.3" y="545.6"/><use href="#dm" x="1163.6" y="632.3"/><use href="#dm" x="1164.8" y="555.4"/><use href="#dm" x="1166.1" y="682.7"/><use href="#dm" x="1167.3" y="556.7"/><use href="#dm" x="1168.6" y="543.6"/><use href="#dm" x="1169.8" y="494.1"/><use href="#dm" x="1171.1" y="552.3"/><use href="#dm" x="1172.3" y="776.5"/><use href="#dm" x="1173.1" y="453.9"/><use href="#dm" x="1174.8" y="578.8"/><use href="#dm" x="1176.1" y="657.8"/><use href="#dm" x="1177.4" y="578.7"/><use href="#dm" x="1178.6" y="672.3"/><use href="#dm" x="1179.9" y="774.0"/><use href="#dm" x="1181.1" y="503.4"/><use href="#dm" x="1182.4" y="630.1"/><use href="#dm" x="1183.6" y="768.4"/><use href="#dm" x="1184.9" y="538.9"/><use href="#dm" x="1186.1" y="478.8"/><use href="#dm" x="1187.4" y="534.7"/><use href="#dm" x="1188.6" y="527.3"/><use href="#dm" x="1189.4" y="777.2"/><use href="#dm" x="1191.2" y="616.5"/><use href="#dm" x="1192.4" y="688.8"/><use href="#dm" x="1193.7" y="446.8"/><use href="#dm" x="1194.9" y="494.3"/><use href="#dm" x="1196.2" y="637.3"/><use href="#dm" x="1197.4" y="652.2"/><use href="#dm" x="1198.0" y="476.4"/><use href="#dm" x="1199.9" y="756.1"/><use href="#dm" x="1201.2" y="596.5"/><use href="#dm" x="1202.4" y="757.2"/><use href="#dm" x="1203.7" y="541.1"/><use href="#dm" x="1204.9" y="747.7"/><use href="#dm" x="1206.2" y="611.6"/><use href="#dm" x="1207.5" y="786.0"/><use href="#dm" x="1208.7" y="514.9"/><use href="#dm" x="1210.0" y="583.2"/><use href="#dm" x="1211.2" y="692.6"/><use href="#dm" x="1212.5" y="654.4"/><use href="#dm" x="1213.7" y="807.8"/><use href="#dm" x="1215.0" y="704.9"/><use href="#dm" x="1216.2" y="599.2"/><use href="#dm" x="1217.5" y="566.2"/><use href="#dm" x="1218.7" y="741.3"/><use href="#dm" x="1220.0" y="745.1"/><use href="#dm" x="1221.3" y="650.7"/><use href="#dm" x="1222.5" y="565.5"/><use href="#dm" x="1223.8" y="583.2"/><use href="#dm" x="1225.0" y="631.7"/><use href="#dm" x="1226.3" y="513.4"/><use href="#dm" x="1227.5" y="742.8"/><use href="#dm" x="1228.8" y="493.1"/><use href="#dm" x="1230.0" y="653.9"/><use href="#dm" x="1231.3" y="537.8"/><use href="#dm" x="1232.5" y="560.2"/><use href="#dm" x="1233.8" y="767.4"/><use href="#dm" x="1235.0" y="544.4"/><use href="#dm" x="1236.3" y="763.7"/><use href="#dm" x="1237.6" y="510.8"/><use href="#dm" x="1238.8" y="580.3"/><use href="#dm" x="1240.1" y="589.2"/><use href="#dm" x="1241.3" y="689.5"/><use href="#dm" x="1242.6" y="754.9"/><use href="#dm" x="1243.8" y="732.0"/><use href="#dm" x="1245.1" y="570.3"/><use href="#dm" x="1246.3" y="544.5"/><use href="#dm" x="1247.6" y="623.2"/><use href="#dm" x="1248.8" y="823.7"/><use href="#dm" x="1250.1" y="515.5"/><use href="#dm" x="1251.4" y="463.6"/><use href="#dm" x="1252.6" y="540.9"/><use href="#dm" x="1254.2" y="401.5"/><use href="#dm" x="1255.1" y="546.8"/><use href="#dm" x="1256.4" y="764.2"/><use href="#dm" x="1257.6" y="682.3"/><use href="#dm" x="1258.9" y="757.7"/><use href="#dm" x="1260.1" y="753.3"/><use href="#dm" x="1261.4" y="543.8"/><use href="#dm" x="1262.6" y="727.3"/><use href="#dm" x="1263.9" y="704.7"/><use href="#dm" x="1265.2" y="730.4"/><use href="#dm" x="1266.4" y="614.6"/><use href="#dm" x="1267.7" y="734.8"/><use href="#dm" x="1268.9" y="534.0"/><use href="#dm" x="1270.2" y="732.8"/><use href="#dm" x="1271.4" y="679.3"/><use href="#dm" x="1272.7" y="720.5"/><use href="#dm" x="1273.9" y="500.0"/><use href="#dm" x="1275.2" y="757.9"/><use href="#dm" x="1276.4" y="769.0"/><use href="#dm" x="1277.7" y="600.9"/><use href="#dm" x="1278.9" y="638.9"/><use href="#dm" x="1280.2" y="597.7"/><use href="#dm" x="1281.5" y="516.8"/><use href="#dm" x="1282.7" y="548.6"/><use href="#dm" x="1284.0" y="537.9"/><use href="#dm" x="1285.2" y="751.6"/><use href="#dm" x="1286.5" y="534.6"/><use href="#dm" x="1287.7" y="527.2"/><use href="#dm" x="1289.0" y="510.1"/><use href="#dm" x="1290.2" y="572.7"/><use href="#dm" x="1291.5" y="680.2"/><use href="#dm" x="1292.7" y="673.9"/><use href="#dm" x="1294.0" y="795.7"/><use href="#dm" x="1295.3" y="586.8"/><use href="#dm" x="1296.5" y="558.2"/><use href="#dm" x="1297.8" y="496.9"/><use href="#dm" x="1298.4" y="485.7"/><use href="#dm" x="1300.3" y="650.8"/><use href="#dm" x="1301.5" y="487.5"/><use href="#dm" x="1302.3" y="837.5"/><use href="#dm" x="1304.0" y="556.3"/><use href="#dm" x="1305.3" y="524.8"/><use href="#dm" x="1306.5" y="619.3"/><use href="#dm" x="1307.8" y="826.8"/><use href="#dm" x="1309.1" y="594.3"/><use href="#dm" x="1310.3" y="618.0"/><use href="#dm" x="1311.6" y="717.3"/><use href="#dm" x="1312.8" y="588.4"/><use href="#dm" x="1314.1" y="512.5"/><use href="#dm" x="1315.3" y="518.9"/><use href="#dm" x="1316.6" y="504.8"/><use href="#dm" x="1317.8" y="777.0"/><use href="#dm" x="1319.1" y="521.0"/><use href="#dm" x="1320.3" y="487.3"/><use href="#dm" x="1321.6" y="499.2"/><use href="#dm" x="1322.8" y="644.5"/><use href="#dm" x="1324.1" y="578.0"/><use href="#dm" x="1325.4" y="561.6"/><use href="#dm" x="1326.4" y="852.6"/><use href="#dm" x="1327.9" y="472.7"/><use href="#dm" x="1329.1" y="691.5"/><use href="#dm" x="1330.4" y="590.6"/><use href="#dm" x="1331.6" y="456.7"/><use href="#dm" x="1332.9" y="794.6"/><use href="#dm" x="1333.5" y="819.0"/><use href="#dm" x="1335.4" y="760.9"/><use href="#dm" x="1336.6" y="722.4"/><use href="#dm" x="1337.9" y="630.1"/><use href="#dm" x="1339.2" y="579.3"/><use href="#dm" x="1340.4" y="557.8"/><use href="#dm" x="1341.7" y="733.5"/><use href="#dm" x="1342.9" y="652.5"/><use href="#dm" x="1344.2" y="643.1"/><use href="#dm" x="1345.4" y="734.9"/><use href="#dm" x="1346.7" y="670.0"/><use href="#dm" x="1347.9" y="751.7"/><use href="#dm" x="1349.2" y="700.5"/><use href="#dm" x="1350.4" y="549.4"/><use href="#dm" x="1351.7" y="687.0"/><use href="#dm" x="1352.9" y="491.3"/><use href="#dm" x="1354.2" y="718.4"/><use href="#dm" x="1355.5" y="606.1"/><use href="#dm" x="1356.7" y="712.5"/><use href="#dm" x="1358.0" y="734.3"/><use href="#dm" x="1359.2" y="659.6"/><use href="#dm" x="1360.5" y="610.8"/><use href="#dm" x="1361.7" y="742.8"/><use href="#dm" x="1363.0" y="468.7"/><use href="#dm" x="1364.2" y="508.1"/><use href="#dm" x="1365.5" y="570.9"/><use href="#dm" x="1366.7" y="553.7"/><use href="#dm" x="1368.0" y="663.9"/><use href="#dm" x="1369.3" y="730.5"/><use href="#dm" x="1370.5" y="551.0"/><use href="#dm" x="1371.8" y="659.8"/><use href="#dm" x="1373.0" y="700.9"/><use href="#dm" x="1374.3" y="702.1"/><use href="#dm" x="1375.5" y="663.6"/><use href="#dm" x="1376.8" y="635.4"/><use href="#dm" x="1378.0" y="746.4"/><use href="#dm" x="1378.9" y="455.5"/><use href="#dm" x="1380.5" y="752.0"/><use href="#dm" x="1381.8" y="729.1"/><use href="#dm" x="1383.7" y="777.2"/><use href="#dm" x="1384.9" y="891.0"/><use href="#dm" x="1385.6" y="713.6"/><use href="#dm" x="1386.8" y="642.8"/><use href="#dm" x="1388.1" y="741.7"/><use href="#dm" x="1389.3" y="634.9"/><use href="#dm" x="1390.6" y="612.0"/><use href="#dm" x="1391.8" y="777.8"/><use href="#dm" x="1393.1" y="609.6"/><use href="#dm" x="1394.3" y="502.7"/><use href="#dm" x="1395.6" y="730.3"/><use href="#dm" x="1396.8" y="619.3"/><use href="#dm" x="1398.1" y="714.0"/><use href="#dm" x="1399.4" y="702.8"/><use href="#dm" x="1400.6" y="467.1"/><use href="#dm" x="1401.7" y="484.5"/><use href="#dm" x="1403.6" y="839.9"/><use href="#dm" x="1404.4" y="674.2"/><use href="#dm" x="1405.6" y="581.2"/><use href="#dm" x="1406.9" y="727.5"/><use href="#dm" x="1408.1" y="629.8"/><use href="#dm" x="1409.4" y="756.8"/><use href="#dm" x="1410.6" y="620.6"/><use href="#dm" x="1411.9" y="472.8"/><use href="#dm" x="1413.2" y="614.3"/><use href="#dm" x="1414.4" y="624.5"/><use href="#dm" x="1415.7" y="583.0"/><use href="#dm" x="1416.9" y="541.5"/><use href="#dm" x="1418.2" y="558.5"/><use href="#dm" x="1419.4" y="659.7"/><use href="#dm" x="1420.7" y="710.2"/><use href="#dm" x="1421.9" y="596.7"/><use href="#dm" x="1423.2" y="737.4"/><use href="#dm" x="1424.4" y="749.9"/><use href="#dm" x="1425.7" y="721.3"/><use href="#dm" x="1427.0" y="554.8"/><use href="#dm" x="1428.2" y="502.4"/><use href="#dm" x="1429.5" y="573.6"/><use href="#dm" x="1430.7" y="452.3"/><use href="#dm" x="1432.0" y="628.7"/><use href="#dm" x="1433.2" y="499.1"/><use href="#dm" x="1434.5" y="486.8"/><use href="#dm" x="1435.2" y="476.4"/><use href="#dm" x="1437.0" y="704.1"/><use href="#dm" x="1437.9" y="839.9"/><use href="#dm" x="1439.5" y="494.3"/><use href="#dm" x="1440.7" y="647.2"/><use href="#dm" x="1442.0" y="574.7"/><use href="#dm" x="1443.3" y="469.8"/><use href="#dm" x="1444.5" y="530.2"/><use href="#dm" x="1445.8" y="461.2"/><use href="#dm" x="1447.0" y="633.6"/><use href="#dm" x="1448.3" y="561.9"/><use href="#dm" x="1449.5" y="692.9"/><use href="#dm" x="1450.8" y="492.4"/><use href="#dm" x="1452.0" y="721.5"/><use href="#dm" x="1453.3" y="597.5"/><use href="#dm" x="1454.5" y="743.8"/><use href="#dm" x="1455.8" y="712.9"/><use href="#dm" x="1457.1" y="633.2"/><use href="#dm" x="1458.3" y="510.9"/><use href="#dm" x="1460.2" y="491.9"/><use href="#dm" x="1460.8" y="684.3"/><use href="#dm" x="1462.1" y="645.2"/><use href="#dm" x="1463.3" y="834.1"/><use href="#dm" x="1464.6" y="761.2"/><use href="#dm" x="1465.8" y="678.3"/><use href="#dm" x="1467.1" y="514.2"/><use href="#dm" x="1468.3" y="610.3"/><use href="#dm" x="1469.6" y="531.7"/><use href="#dm" x="1470.8" y="614.7"/><use href="#dm" x="1472.1" y="690.7"/><use href="#dm" x="1473.4" y="593.6"/><use href="#dm" x="1474.6" y="504.7"/><use href="#dm" x="1475.9" y="705.0"/><use href="#dm" x="1476.9" y="871.2"/><use href="#dm" x="1478.4" y="708.1"/><use href="#dm" x="1479.6" y="686.9"/><use href="#dm" x="1481.1" y="447.4"/><use href="#dm" x="1482.1" y="566.4"/><use href="#dm" x="1483.4" y="820.0"/><use href="#dm" x="1484.6" y="624.8"/><use href="#dm" x="1486.4" y="427.6"/><use href="#dm" x="1487.2" y="456.6"/><use href="#dm" x="1488.4" y="556.3"/><use href="#dm" x="1489.7" y="708.0"/><use href="#dm" x="1490.9" y="533.9"/><use href="#dm" x="1492.2" y="635.9"/><use href="#dm" x="1493.4" y="700.1"/><use href="#dm" x="1494.7" y="482.6"/><use href="#dm" x="1495.9" y="692.7"/><use href="#dm" x="1497.2" y="655.9"/><use href="#dm" x="1498.4" y="538.1"/><use href="#dm" x="1499.7" y="695.3"/><use href="#dm" x="1501.0" y="682.7"/><use href="#dm" x="1502.2" y="770.8"/><use href="#dm" x="1503.5" y="637.6"/><use href="#dm" x="1504.7" y="807.1"/><use href="#dm" x="1506.0" y="592.0"/><use href="#dm" x="1507.2" y="554.7"/><use href="#dm" x="1508.5" y="708.6"/><use href="#dm" x="1509.7" y="754.6"/><use href="#dm" x="1511.0" y="712.8"/><use href="#dm" x="1512.2" y="478.5"/><use href="#dm" x="1513.9" y="434.6"/><use href="#dm" x="1515.2" y="452.6"/><use href="#dm" x="1516.5" y="469.4"/><use href="#dm" x="1517.3" y="535.0"/><use href="#dm" x="1518.5" y="684.7"/><use href="#dm" x="1519.8" y="583.1"/><use href="#dm" x="1521.0" y="502.3"/><use href="#dm" x="1522.0" y="946.7"/><use href="#dm" x="1523.5" y="446.4"/><use href="#dm" x="1524.8" y="679.4"/><use href="#dm" x="1526.0" y="760.1"/><use href="#dm" x="1529.8" y="728.4"/><use href="#dm" x="1529.8" y="650.6"/><use href="#dm" x="1529.8" y="867.7"/><path d="M172.7 504.3L174.2 574.0L175.2 759.2L176.5 624.7L177.5 980.4L179.0 821.3L180.2 691.4L181.5 833.6L182.7 673.7L183.9 418.4L185.2 806.0L186.5 770.3L187.8 795.6L189.0 693.0L190.3 727.4L191.5 758.2L193.0 904.9L194.0 649.2L195.3 750.1L196.5 726.9L197.8 768.8L199.3 973.4L200.3 728.5L201.5 684.3L202.8 770.6L204.1 795.5L205.3 701.7L206.6 741.0L207.8 611.7L209.1 728.7L210.2 1182.4L211.6 725.6L212.8 745.9L214.1 674.1L215.3 715.3L216.6 878.0L217.9 667.0L219.1 770.8L220.5 1028.0L221.6 626.9L222.9 794.9L224.1 601.0L225.8 916.5L226.6 681.7L227.9 853.4L229.1 679.0L229.9 881.7L231.6 748.6L232.9 677.5L234.2 788.1L235.4 775.6L236.7 736.9L237.9 770.5L238.9 456.7L240.4 723.4L241.7 704.0L242.9 945.5L244.2 801.5L245.4 689.0L246.7 685.8L248.0 747.4L249.2 868.2L250.5 815.4L251.7 783.6L253.0 800.6L254.2 639.2L255.5 1034.9L256.7 579.4L258.0 784.7L259.2 753.0L260.5 788.4L261.8 649.6L263.0 730.4L264.3 817.0L265.5 765.0L267.3 1036.1L268.0 569.0L269.3 783.4L270.5 802.6L271.8 648.6L273.0 693.9L274.3 747.1L275.5 681.0L276.8 679.5L278.1 769.8L278.8 1055.8L280.6 674.0L281.8 684.5L283.1 720.7L284.3 800.9L285.6 617.9L286.8 691.0L288.1 731.3L289.3 641.4L290.6 744.5L291.9 767.2L293.1 770.7L293.9 928.1L295.6 724.4L296.9 670.5L298.1 865.7L299.4 672.7L300.6 723.6L302.3 913.0L303.1 668.5L304.4 736.7L305.7 643.1L306.9 774.6L307.9 895.6L309.4 665.8L310.7 662.0L311.9 690.6L313.2 708.9L314.4 804.1L315.7 691.0L316.9 641.8L318.2 652.1L319.4 765.5L320.3 1055.8L322.0 698.9L323.2 727.5L324.5 885.1L325.7 719.2L327.0 639.3L328.2 635.9L329.5 704.0L330.7 795.4L332.0 765.4L333.4 1017.5L334.5 711.6L335.8 695.7L337.0 701.9L338.3 652.3L339.5 848.3L340.8 744.5L342.0 701.0L343.3 653.1L344.5 711.6L345.8 699.2L346.5 966.4L348.3 692.5L349.5 613.9L350.8 625.3L352.1 742.8L353.3 610.4L354.6 765.4L355.8 832.6L357.1 813.5L358.3 853.0L359.6 614.3L360.8 648.9L362.1 761.4L363.3 597.2L364.6 599.2L365.9 691.2L367.1 621.2L369.0 463.1L369.6 719.0L370.9 722.5L372.1 782.8L373.4 696.4L374.6 554.7L375.9 680.7L377.1 876.2L378.4 586.1L380.2 918.8L380.9 516.2L382.2 756.0L383.4 596.6L384.7 728.7L385.9 594.2L387.2 638.1L388.4 784.7L389.7 692.8L390.9 865.4L392.2 615.7L393.4 856.6L394.3 852.6L396.0 707.5L397.2 588.7L398.5 748.7L399.7 726.2L401.0 788.5L402.2 555.8L403.5 711.2L404.7 713.7L406.0 735.5L407.2 766.9L408.5 766.9L409.8 659.3L411.0 674.1L412.3 747.0L413.5 681.5L414.8 600.9L416.0 665.7L417.3 570.6L418.5 600.0L419.8 638.5L421.0 695.2L422.3 554.8L423.5 831.8L424.8 835.2L426.1 841.1L427.3 629.9L428.6 714.9L429.8 671.6L431.1 674.3L432.3 571.5L433.6 654.0L434.8 570.4L436.1 691.8L437.3 532.3L438.6 662.5L439.9 662.1L441.0 858.4L442.4 800.2L443.6 560.7L444.9 716.3L446.1 656.8L447.4 630.9L448.6 586.2L449.9 697.4L451.1 733.0L452.4 633.4L453.7 493.4L454.9 636.4L456.2 598.9L457.4 811.8L458.7 594.1L459.9 595.7L461.2 582.1L462.4 622.5L463.7 756.8L464.9 796.7L466.2 840.8L467.4 635.4L468.7 624.5L470.0 762.5L471.2 610.5L472.5 653.9L473.7 438.1L475.0 711.8L476.2 788.2L477.5 721.7L478.7 564.4L480.0 685.8L481.2 624.4L482.5 853.8L483.8 748.6L485.0 712.6L486.3 702.5L487.5 762.3L488.8 789.9L490.0 623.7L491.3 447.4L492.5 670.4L493.8 741.3L495.0 725.0L496.3 574.5L497.6 524.3L498.8 568.3L500.1 711.4L501.3 573.2L502.6 647.7L503.8 659.6L505.1 739.8L506.3 663.0L507.6 623.4L508.8 583.8L510.1 762.4L511.3 523.2L512.6 706.0L513.9 697.6L515.1 596.3L516.4 502.8L517.6 743.8L518.9 622.7L520.1 709.4L521.3 853.8L522.6 648.5L523.9 681.6L525.1 759.7L526.4 847.5L527.7 579.3L528.5 281.3L530.2 732.7L531.4 576.5L533.0 903.7L533.9 586.2L535.2 661.1L536.4 763.8L537.7 682.2L538.9 643.1L540.4 318.5L541.4 749.8L542.7 706.1L544.0 625.7L545.2 724.1L546.2 832.9L547.7 697.6L549.0 745.7L550.2 594.0L551.5 734.7L552.7 576.5L554.0 752.1L555.2 762.6L556.5 763.0L557.8 729.3L559.0 601.3L560.1 463.1L561.5 676.4L562.8 714.9L564.0 810.3L565.3 759.3L566.5 656.8L567.4 1095.3L569.0 735.7L570.3 695.5L571.6 611.1L572.8 785.8L574.1 519.1L574.8 431.1L576.6 794.4L577.8 589.1L579.0 863.1L580.3 741.7L581.6 814.1L582.8 641.7L584.1 631.9L585.3 464.8L586.6 671.8L587.9 498.5L589.1 580.6L590.4 733.2L591.6 833.8L592.9 633.6L594.1 819.6L595.4 662.7L596.6 756.9L597.9 814.3L599.1 877.0L600.4 646.7L601.7 692.9L602.9 754.3L604.2 634.3L605.4 814.9L606.7 644.7L607.9 754.6L608.6 903.7L610.4 813.7L611.7 714.8L612.9 772.7L614.2 635.4L615.5 772.2L616.7 746.0L618.0 767.1L619.2 635.2L620.5 1087.2L621.7 780.1L623.0 724.0L624.2 594.1L625.5 731.6L626.7 590.9L628.0 816.3L629.2 865.4L630.4 1163.8L631.8 588.0L633.0 749.4L634.3 603.7L635.5 821.1L636.8 738.0L638.0 749.4L639.8 927.0L640.5 744.9L641.8 799.2L643.0 779.4L644.3 634.0L645.6 726.3L646.8 554.1L648.1 611.9L649.3 742.9L650.7 1077.9L651.8 638.3L653.1 818.9L654.3 590.0L655.6 768.5L656.8 619.6L658.1 765.2L659.3 685.5L660.6 662.7L661.6 1125.5L663.1 536.7L664.4 682.6L665.6 822.7L666.9 719.5L668.1 610.4L669.4 770.9L670.6 715.9L671.9 786.6L673.1 660.8L674.4 653.3L675.7 754.1L677.2 994.3L678.2 810.3L679.4 659.1L680.7 813.5L681.9 559.6L682.8 1017.5L684.4 608.1L685.7 809.2L686.9 874.2L688.2 729.0L689.5 735.8L690.7 679.3L692.0 641.6L693.2 801.2L694.3 1058.2L695.7 746.2L697.0 784.3L698.2 774.3L699.5 635.7L700.7 756.1L702.0 611.4L703.2 775.2L704.5 683.6L705.8 801.4L706.8 894.4L708.3 626.0L709.5 583.4L710.8 837.5L712.0 695.1L713.3 739.2L714.5 722.3L715.8 652.2L717.0 793.3L718.3 684.4L719.3 937.4L720.8 770.3L722.1 686.9L723.3 768.8L724.6 575.9L725.8 771.1L727.1 766.5L728.3 694.6L730.2 987.3L730.8 693.0L732.1 786.5L733.3 662.0L734.6 745.6L735.9 608.4L737.1 686.6L738.4 716.4L739.6 598.4L740.9 759.3L742.8 935.1L743.4 523.2L744.6 632.1L745.9 619.1L747.4 894.4L748.4 550.1L749.7 612.4L750.9 850.0L752.2 691.6L753.4 734.6L754.7 607.5L755.9 834.3L757.2 598.6L758.4 762.3L759.7 596.0L760.9 774.9L762.2 709.2L763.5 663.5L764.7 751.7L766.0 739.0L767.2 618.4L768.5 745.0L769.7 703.1L770.9 886.3L772.2 801.8L773.5 607.1L774.7 541.5L776.0 770.4L777.2 754.9L778.5 672.2L779.8 718.2L781.0 665.3L782.3 650.5L783.5 692.1L784.3 914.2L786.0 729.9L787.3 626.4L788.5 739.8L789.8 753.1L791.0 813.0L792.3 813.6L793.6 764.5L794.8 756.3L796.1 624.8L797.3 760.8L798.2 925.8L799.8 744.6L801.1 582.7L802.3 616.4L803.6 584.9L804.8 589.3L806.1 737.3L807.4 593.7L808.6 800.1L809.9 737.4L811.1 715.3L812.4 739.5L813.6 594.3L814.4 842.2L816.1 705.7L817.4 563.9L818.6 590.2L819.9 597.6L821.1 617.8L822.4 812.4L823.7 696.1L824.9 659.5L826.2 599.1L827.4 854.6L828.7 689.6L829.4 889.8L831.2 656.2L832.4 622.0L833.7 729.9L834.9 753.4L836.2 715.9L837.5 582.9L838.7 641.5L839.5 822.4L841.2 568.7L842.5 683.9L843.7 600.3L845.0 783.3L846.2 758.1L847.5 553.4L848.7 795.3L850.0 657.5L851.2 725.5L852.5 677.2L853.8 849.1L855.0 735.4L856.3 821.3L857.5 623.2L858.8 715.2L859.7 819.0L861.3 700.1L862.5 683.7L863.8 632.8L865.0 603.2L866.3 543.3L867.6 720.3L868.8 523.8L870.1 542.6L871.3 737.1L872.6 656.1L873.8 650.4L875.1 731.5L876.8 799.2L877.6 516.8L878.8 638.4L880.1 520.7L881.4 681.6L882.6 683.9L883.9 743.9L885.1 755.5L886.4 632.6L887.6 616.1L888.9 716.4L890.0 1028.0L891.4 671.9L892.6 651.4L893.9 725.1L895.1 459.0L896.4 721.9L897.7 598.9L898.9 706.3L900.2 706.1L901.4 605.4L902.7 642.7L903.9 592.9L905.2 617.2L906.4 614.1L907.1 942.1L908.9 710.1L910.2 655.1L911.5 848.6L912.7 759.3L914.0 850.4L915.2 739.4L916.5 585.8L917.7 653.3L919.0 635.3L919.6 850.3L921.5 621.2L922.7 608.3L924.0 845.4L925.2 599.0L926.5 784.1L927.8 768.2L929.0 622.3L930.5 843.4L931.5 714.7L932.8 774.5L934.0 729.3L935.3 690.8L936.5 568.3L937.8 639.3L938.9 878.2L940.3 676.8L941.6 656.6L942.8 555.6L944.1 629.3L945.3 641.4L946.6 727.9L947.8 750.3L949.1 736.2L949.8 796.9L951.6 593.0L952.8 549.2L954.1 625.2L955.4 678.9L956.6 619.0L957.9 599.1L959.1 728.9L960.4 678.4L961.6 826.4L962.9 840.6L964.1 627.1L965.4 704.1L966.6 697.2L967.9 752.3L969.1 763.3L969.9 476.4L971.7 678.2L973.5 953.7L974.2 686.0L975.4 628.4L976.7 649.0L977.9 714.1L979.2 606.3L980.4 626.5L981.7 691.9L982.9 660.7L984.2 835.6L985.5 739.5L986.7 725.6L988.0 595.3L989.2 763.2L990.5 722.0L991.7 765.1L993.0 758.8L994.2 622.1L995.5 898.2L996.7 845.4L998.0 608.5L999.3 701.0L1000.5 650.5L1001.8 832.4L1003.0 805.5L1004.3 614.9L1005.5 689.4L1006.8 699.8L1008.0 665.4L1009.3 631.8L1010.5 711.2L1011.8 631.9L1013.0 763.8L1014.3 601.1L1015.8 398.6L1016.8 653.6L1018.1 711.1L1019.3 668.5L1020.3 1082.6L1021.8 649.4L1023.1 765.9L1024.3 715.7L1025.6 728.1L1026.8 599.7L1028.1 669.2L1029.4 736.2L1030.6 592.0L1031.9 542.6L1033.1 641.9L1034.4 707.9L1035.9 945.5L1036.9 661.0L1038.1 681.3L1039.4 711.3L1040.6 607.5L1041.9 673.4L1043.1 655.2L1044.4 934.7L1045.7 830.3L1046.9 747.2L1048.2 567.5L1049.4 676.3L1050.7 783.0L1051.6 886.3L1053.2 721.1L1054.4 655.4L1055.7 799.7L1056.9 924.2L1058.2 697.7L1059.5 714.7L1060.7 617.0L1062.0 695.2L1063.1 913.0L1064.5 777.4L1065.7 817.7L1067.0 761.8L1068.2 782.3L1069.5 785.1L1070.7 800.8L1072.0 546.1L1073.3 785.5L1074.5 728.7L1075.3 463.1L1077.0 755.8L1078.3 637.6L1079.5 535.2L1080.8 653.6L1081.8 1110.4L1083.3 835.9L1084.5 523.6L1085.8 778.8L1087.0 850.9L1088.3 439.3L1089.6 800.3L1090.8 648.3L1092.1 978.0L1093.3 649.9L1094.6 622.9L1095.8 635.5L1097.1 669.5L1098.3 657.5L1099.6 623.9L1100.8 768.9L1102.1 797.7L1103.6 964.1L1104.6 795.4L1105.9 712.0L1107.1 626.1L1108.4 525.3L1109.6 695.4L1110.9 630.1L1112.1 728.0L1113.4 807.5L1114.6 676.4L1115.5 923.5L1117.2 606.9L1118.4 594.8L1119.7 709.7L1120.7 452.6L1122.2 676.1L1123.4 621.0L1124.7 710.0L1125.9 641.2L1127.2 718.1L1128.4 690.2L1129.7 749.8L1130.9 723.8L1132.2 754.0L1134.0 930.4L1134.7 634.4L1136.0 743.2L1137.2 681.4L1138.5 636.1L1139.7 528.1L1141.0 690.5L1142.2 562.4L1143.5 571.4L1144.2 431.6L1146.0 634.8L1147.4 980.4L1148.5 671.5L1149.8 678.3L1151.0 765.1L1152.3 709.4L1153.5 789.8L1154.8 804.2L1156.0 606.3L1157.3 729.0L1158.5 635.0L1159.8 873.5L1161.0 716.8L1162.3 714.6L1163.6 601.8L1164.8 540.9L1166.1 577.4L1167.3 681.9L1168.6 710.5L1169.8 555.6L1171.3 901.4L1172.3 703.7L1173.6 786.6L1174.8 761.9L1176.1 805.4L1177.4 531.5L1178.6 898.1L1179.9 888.9L1181.1 809.6L1182.5 982.7L1183.6 766.2L1184.9 524.3L1186.1 619.0L1187.4 788.3L1188.6 651.0L1189.9 602.0L1190.6 433.4L1192.4 803.5L1193.7 534.4L1194.9 788.1L1196.2 646.3L1197.4 617.6L1198.7 791.9L1200.3 940.9L1201.2 657.5L1202.4 631.2L1203.7 664.0L1204.9 712.5L1206.2 633.2L1207.5 633.4L1208.7 738.0L1210.0 889.9L1211.2 624.0L1212.5 670.6L1213.7 623.0L1215.0 732.1L1216.2 611.0L1217.5 653.1L1218.7 609.3L1220.0 735.4L1221.3 566.5L1222.5 672.4L1223.8 610.8L1225.0 520.2L1225.9 928.1L1227.5 734.3L1228.8 626.8L1230.0 605.3L1231.3 770.4L1232.5 628.4L1233.8 637.6L1235.0 739.1L1236.8 863.1L1237.6 743.4L1238.8 636.8L1240.1 693.2L1241.3 856.6L1242.6 736.1L1243.7 837.5L1245.1 679.8L1246.3 666.7L1247.6 741.7L1248.8 645.0L1250.1 670.6L1251.4 679.1L1252.6 767.0L1253.9 705.1L1255.1 832.6L1256.4 744.4L1257.8 864.3L1258.9 768.0L1260.1 508.4L1261.4 682.1L1262.6 722.3L1263.9 692.3L1265.2 630.7L1266.4 595.6L1267.7 760.0L1268.9 734.1L1270.2 770.1L1271.4 611.9L1272.7 598.5L1273.9 752.0L1275.2 693.7L1276.6 421.1L1277.7 664.7L1278.9 597.8L1280.2 694.3L1281.1 886.3L1282.7 593.2L1284.0 754.4L1285.2 701.6L1286.5 609.3L1287.7 752.6L1289.0 642.5L1290.2 597.2L1291.5 583.5L1292.7 605.7L1294.0 710.9L1295.3 636.2L1296.5 789.5L1297.8 739.2L1298.6 891.0L1300.3 736.1L1301.5 756.9L1302.8 727.7L1304.0 524.8L1305.3 611.1L1306.5 618.7L1307.8 799.7L1309.1 844.3L1310.3 660.3L1311.6 705.2L1312.8 684.1L1314.1 473.6L1315.3 748.6L1316.6 673.0L1317.8 625.2L1319.1 694.8L1320.3 716.0L1321.6 706.6L1322.8 683.3L1324.1 622.4L1325.4 847.0L1326.6 536.3L1327.9 724.9L1329.1 714.0L1330.4 726.3L1331.6 612.3L1332.9 622.3L1334.1 782.0L1335.4 746.8L1336.6 713.2L1337.9 752.4L1339.2 706.6L1340.4 754.4L1341.7 679.9L1342.9 692.6L1344.2 723.6L1345.4 900.2L1346.7 642.9L1347.9 726.6L1349.2 763.8L1350.4 682.1L1351.7 725.1L1352.9 649.6L1354.2 668.0L1355.5 746.4L1356.7 694.0L1358.0 748.2L1359.2 704.8L1360.7 918.8L1361.7 754.7L1363.0 682.0L1364.2 715.2L1365.5 624.8L1366.5 248.8L1368.0 661.8L1369.3 553.3L1370.5 673.9L1371.8 824.7L1373.0 615.5L1374.3 640.5L1375.5 633.3L1376.8 840.0L1378.0 675.5L1379.3 669.1L1380.5 755.8L1381.8 721.1L1383.4 928.1L1384.3 618.1L1385.6 577.8L1386.8 725.9L1388.1 535.4L1389.3 667.8L1390.6 742.2L1391.8 632.4L1393.1 571.0L1394.3 670.4L1395.6 738.9L1396.8 736.2L1398.1 603.4L1399.4 655.9L1400.6 731.2L1401.9 587.3L1403.1 683.3L1404.4 663.3L1405.6 584.4L1406.9 698.1L1408.1 698.6L1409.4 574.6L1410.6 587.7L1411.9 600.4L1413.2 528.5L1414.4 583.4L1415.7 685.2L1416.9 697.4L1418.2 757.8L1419.4 670.5L1420.9 849.2L1421.9 615.6L1422.7 402.8L1424.4 593.4L1425.7 772.3L1427.0 724.5L1428.2 723.8L1429.5 584.8L1431.2 478.7L1432.0 691.6L1433.2 724.3L1434.5 645.7L1435.7 845.1L1437.1 881.7L1438.2 687.6L1439.5 760.2L1440.7 807.3L1442.0 703.1L1443.3 741.5L1444.4 449.7L1445.8 657.7L1447.0 648.6L1448.3 872.4L1449.5 673.7L1450.8 693.2L1452.0 748.4L1453.3 683.8L1454.5 666.5L1455.8 536.7L1457.1 753.1L1458.3 691.3L1459.6 568.0L1460.8 622.0L1462.1 800.3L1462.9 885.2L1464.6 855.8L1465.8 632.1L1467.1 843.3L1468.3 631.7L1469.6 736.9L1470.8 648.8L1472.2 973.4L1473.4 691.3L1474.6 631.6L1475.9 703.8L1477.1 641.4L1478.4 799.5L1479.6 834.1L1480.9 675.9L1482.1 572.4L1483.4 723.3L1484.6 597.3L1485.9 735.5L1487.2 714.2L1488.4 761.5L1489.7 687.7L1490.9 754.9L1492.5 939.7L1493.4 720.7L1494.7 760.9L1495.9 682.9L1497.2 823.0L1498.4 755.2L1499.7 607.4L1501.0 789.6L1502.2 586.6L1503.5 557.0L1504.5 913.0L1506.0 626.0L1507.2 561.4L1508.5 699.6L1509.7 736.3L1511.0 677.4L1512.2 575.9L1513.5 697.3L1514.4 935.1L1516.0 687.0L1517.3 595.4L1518.5 708.4L1519.8 668.8L1521.0 749.6L1522.3 613.8L1523.5 756.9L1525.4 1112.7L1526.0 816.5L1527.3 650.0L1528.5 563.7L1529.8 727.3" fill="none" stroke="#0008ff" stroke-width="5" stroke-linejoin="round"/>
<g font-family="Liberation Serif, serif" font-weight="bold" font-size="70" fill="#000"><text x="149.5" y="66.8" text-anchor="end">4</text><text x="149.5" y="299.0" text-anchor="end">2</text><text x="149.5" y="531.3" text-anchor="end">0</text><text x="149.5" y="763.5" text-anchor="end">-2</text><text x="149.5" y="995.8" text-anchor="end">-4</text><text x="149.5" y="1228.0" text-anchor="end">-6</text><text x="172.7" y="1287.3" text-anchor="middle">0</text><text x="423.5" y="1287.3" text-anchor="middle">200</text><text x="674.4" y="1287.3" text-anchor="middle">400</text><text x="925.2" y="1287.3" text-anchor="middle">600</text><text x="1176.1" y="1287.3" text-anchor="middle">800</text><text x="1427.0" y="1287.3" text-anchor="middle">1000</text><text x="1677.8" y="1287.3" text-anchor="middle">1200</text></g>
<text x="559.5" y="1377.2" font-family="Liberation Serif, serif" font-weight="bold" font-size="70" fill="#000" letter-spacing="0.23">Rotation Angle</text><text x="1066.5" y="1377.2" font-family="Liberation Serif, serif" font-size="70" fill="#000" letter-spacing="1.2">/(°)</text><text transform="translate(65.5 1020) rotate(-90)" font-family="Liberation Serif, serif" font-weight="bold" font-size="70" fill="#000" letter-spacing="0.35">Transmission Error</text><text transform="translate(65.5 393) rotate(-90)" font-family="Liberation Serif, serif" font-size="70" fill="#000">/(’)</text>
<rect x="945" y="84.6" width="672" height="68.4" fill="#fff"/><rect x="1090" y="60" width="200" height="93" fill="#fff"/><path d="M961 113.7H981M987 113.7H996M1028 113.7H1038M1044 113.7H1064" stroke="#ff0a00" stroke-width="5" fill="none"/><path d="M1012.8 100.3L1021.5 113.7L1012.8 127.1L1004.1 113.7Z" stroke="#ff0a00" stroke-width="6.3" fill="#fff"/><text x="1096" y="139" font-family="Liberation Serif, serif" font-size="70" fill="#000">Before</text><path d="M1312.4 113.2H1412" stroke="#0008ff" stroke-width="4.6" stroke-linecap="round"/><text x="1458" y="139" font-family="Liberation Serif, serif" font-size="70" fill="#000" letter-spacing="-0.8">After</text>
</svg></body></html>
